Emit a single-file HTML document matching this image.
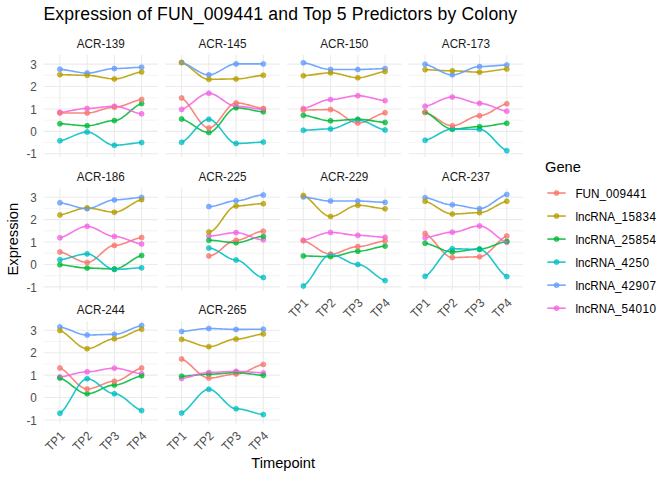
<!DOCTYPE html>
<html lang="en"><head><meta charset="utf-8"><title>Expression of FUN_009441 and Top 5 Predictors by Colony</title>
<style>html,body{margin:0;padding:0;background:#fff}svg{display:block}</style></head>
<body>
<svg width="672" height="480" viewBox="0 0 672 480" font-family='"Liberation Sans", Arial, Helvetica, sans-serif'>
<rect width="672" height="480" fill="#fff"/>
<text x="43.4" y="20.1" font-size="17.6" fill="#000" letter-spacing="0.157">Expression of FUN_009441 and Top 5 Predictors by Colony</text>
<g><path d="M43.55 75.31H157.95M43.55 97.73H157.95M43.55 120.15H157.95M43.55 142.57H157.95" stroke="#EBEBEB" stroke-width="0.53" fill="none"/><path d="M43.55 64.10H157.95M43.55 86.52H157.95M43.55 108.94H157.95M43.55 131.36H157.95M43.55 153.78H157.95M59.89 55.10V157.30M87.13 55.10V157.30M114.37 55.10V157.30M141.61 55.10V157.30" stroke="#EBEBEB" stroke-width="1.07" fill="none"/><circle cx="59.89" cy="112.30" r="2.5" fill="#F564E3" fill-opacity="0.75" stroke="#F564E3" stroke-opacity="0.75" stroke-width="0.8"/><circle cx="87.13" cy="108.49" r="2.5" fill="#F564E3" fill-opacity="0.75" stroke="#F564E3" stroke-opacity="0.75" stroke-width="0.8"/><circle cx="114.37" cy="106.25" r="2.5" fill="#F564E3" fill-opacity="0.75" stroke="#F564E3" stroke-opacity="0.75" stroke-width="0.8"/><circle cx="141.61" cy="113.87" r="2.5" fill="#F564E3" fill-opacity="0.75" stroke="#F564E3" stroke-opacity="0.75" stroke-width="0.8"/><circle cx="59.89" cy="69.26" r="2.5" fill="#619CFF" fill-opacity="0.75" stroke="#619CFF" stroke-opacity="0.75" stroke-width="0.8"/><circle cx="87.13" cy="73.07" r="2.5" fill="#619CFF" fill-opacity="0.75" stroke="#619CFF" stroke-opacity="0.75" stroke-width="0.8"/><circle cx="114.37" cy="68.58" r="2.5" fill="#619CFF" fill-opacity="0.75" stroke="#619CFF" stroke-opacity="0.75" stroke-width="0.8"/><circle cx="141.61" cy="67.24" r="2.5" fill="#619CFF" fill-opacity="0.75" stroke="#619CFF" stroke-opacity="0.75" stroke-width="0.8"/><circle cx="59.89" cy="140.78" r="2.5" fill="#00BFC4" fill-opacity="0.75" stroke="#00BFC4" stroke-opacity="0.75" stroke-width="0.8"/><circle cx="87.13" cy="132.03" r="2.5" fill="#00BFC4" fill-opacity="0.75" stroke="#00BFC4" stroke-opacity="0.75" stroke-width="0.8"/><circle cx="114.37" cy="145.26" r="2.5" fill="#00BFC4" fill-opacity="0.75" stroke="#00BFC4" stroke-opacity="0.75" stroke-width="0.8"/><circle cx="141.61" cy="142.57" r="2.5" fill="#00BFC4" fill-opacity="0.75" stroke="#00BFC4" stroke-opacity="0.75" stroke-width="0.8"/><circle cx="59.89" cy="123.74" r="2.5" fill="#00BA38" fill-opacity="0.75" stroke="#00BA38" stroke-opacity="0.75" stroke-width="0.8"/><circle cx="87.13" cy="125.75" r="2.5" fill="#00BA38" fill-opacity="0.75" stroke="#00BA38" stroke-opacity="0.75" stroke-width="0.8"/><circle cx="114.37" cy="120.60" r="2.5" fill="#00BA38" fill-opacity="0.75" stroke="#00BA38" stroke-opacity="0.75" stroke-width="0.8"/><circle cx="141.61" cy="103.56" r="2.5" fill="#00BA38" fill-opacity="0.75" stroke="#00BA38" stroke-opacity="0.75" stroke-width="0.8"/><circle cx="59.89" cy="74.64" r="2.5" fill="#B79F00" fill-opacity="0.75" stroke="#B79F00" stroke-opacity="0.75" stroke-width="0.8"/><circle cx="87.13" cy="75.31" r="2.5" fill="#B79F00" fill-opacity="0.75" stroke="#B79F00" stroke-opacity="0.75" stroke-width="0.8"/><circle cx="114.37" cy="78.90" r="2.5" fill="#B79F00" fill-opacity="0.75" stroke="#B79F00" stroke-opacity="0.75" stroke-width="0.8"/><circle cx="141.61" cy="71.95" r="2.5" fill="#B79F00" fill-opacity="0.75" stroke="#B79F00" stroke-opacity="0.75" stroke-width="0.8"/><circle cx="59.89" cy="112.98" r="2.5" fill="#F8766D" fill-opacity="0.75" stroke="#F8766D" stroke-opacity="0.75" stroke-width="0.8"/><circle cx="87.13" cy="112.98" r="2.5" fill="#F8766D" fill-opacity="0.75" stroke="#F8766D" stroke-opacity="0.75" stroke-width="0.8"/><circle cx="114.37" cy="107.15" r="2.5" fill="#F8766D" fill-opacity="0.75" stroke="#F8766D" stroke-opacity="0.75" stroke-width="0.8"/><circle cx="141.61" cy="99.52" r="2.5" fill="#F8766D" fill-opacity="0.75" stroke="#F8766D" stroke-opacity="0.75" stroke-width="0.8"/><path d="M59.89 112.98L61.60 112.98L63.30 112.98L65.00 112.98L66.70 112.98L68.40 112.98L70.11 112.98L71.81 112.98L73.51 112.98L75.21 112.98L76.92 112.98L78.62 112.98L80.32 112.98L82.02 112.98L83.73 112.98L85.43 112.98L87.13 112.98L88.83 112.91L90.54 112.73L92.24 112.44L93.94 112.06L95.64 111.62L97.35 111.13L99.05 110.60L100.75 110.06L102.45 109.52L104.15 108.99L105.86 108.50L107.56 108.06L109.26 107.68L110.96 107.40L112.67 107.21L114.37 107.15L116.07 107.07L117.77 106.87L119.48 106.55L121.18 106.13L122.88 105.63L124.58 105.07L126.29 104.46L127.99 103.81L129.69 103.15L131.39 102.49L133.10 101.85L134.80 101.25L136.50 100.70L138.20 100.22L139.90 99.82L141.61 99.52" stroke="#F8766D" stroke-opacity="0.88" stroke-width="1.6" fill="none" stroke-linejoin="round" stroke-linecap="butt"/><path d="M59.89 74.64L61.60 74.66L63.30 74.70L65.00 74.74L66.70 74.79L68.40 74.84L70.11 74.90L71.81 74.96L73.51 75.02L75.21 75.07L76.92 75.13L78.62 75.18L80.32 75.22L82.02 75.26L83.73 75.29L85.43 75.30L87.13 75.31L88.83 75.35L90.54 75.46L92.24 75.64L93.94 75.87L95.64 76.14L97.35 76.45L99.05 76.77L100.75 77.10L102.45 77.44L104.15 77.76L105.86 78.07L107.56 78.34L109.26 78.57L110.96 78.74L112.67 78.86L114.37 78.90L116.07 78.83L117.77 78.65L119.48 78.36L121.18 77.97L122.88 77.52L124.58 77.00L126.29 76.44L127.99 75.86L129.69 75.25L131.39 74.66L133.10 74.07L134.80 73.52L136.50 73.02L138.20 72.58L139.90 72.22L141.61 71.95" stroke="#B79F00" stroke-opacity="0.88" stroke-width="1.6" fill="none" stroke-linejoin="round" stroke-linecap="butt"/><path d="M59.89 123.74L61.60 123.82L63.30 123.92L65.00 124.05L66.70 124.19L68.40 124.35L70.11 124.52L71.81 124.70L73.51 124.87L75.21 125.04L76.92 125.21L78.62 125.35L80.32 125.49L82.02 125.60L83.73 125.68L85.43 125.74L87.13 125.75L88.83 125.70L90.54 125.53L92.24 125.28L93.94 124.95L95.64 124.56L97.35 124.12L99.05 123.66L100.75 123.18L102.45 122.70L104.15 122.23L105.86 121.79L107.56 121.40L109.26 121.07L110.96 120.82L112.67 120.66L114.37 120.60L116.07 120.44L117.77 119.98L119.48 119.27L121.18 118.34L122.88 117.22L124.58 115.96L126.29 114.59L127.99 113.14L129.69 111.67L131.39 110.20L133.10 108.77L134.80 107.42L136.50 106.19L138.20 105.11L139.90 104.22L141.61 103.56" stroke="#00BA38" stroke-opacity="0.88" stroke-width="1.6" fill="none" stroke-linejoin="round" stroke-linecap="butt"/><path d="M59.89 140.78L61.60 140.44L63.30 139.98L65.00 139.43L66.70 138.80L68.40 138.10L70.11 137.37L71.81 136.61L73.51 135.86L75.21 135.12L76.92 134.41L78.62 133.77L80.32 133.19L82.02 132.71L83.73 132.35L85.43 132.11L87.13 132.03L88.83 132.18L90.54 132.60L92.24 133.25L93.94 134.10L95.64 135.10L97.35 136.22L99.05 137.41L100.75 138.65L102.45 139.88L104.15 141.08L105.86 142.19L107.56 143.19L109.26 144.04L110.96 144.69L112.67 145.11L114.37 145.26L116.07 145.24L117.77 145.16L119.48 145.05L121.18 144.90L122.88 144.73L124.58 144.53L126.29 144.31L127.99 144.08L129.69 143.85L131.39 143.62L133.10 143.39L134.80 143.18L136.50 142.98L138.20 142.81L139.90 142.67L141.61 142.57" stroke="#00BFC4" stroke-opacity="0.88" stroke-width="1.6" fill="none" stroke-linejoin="round" stroke-linecap="butt"/><path d="M59.89 69.26L61.60 69.40L63.30 69.60L65.00 69.84L66.70 70.12L68.40 70.42L70.11 70.74L71.81 71.07L73.51 71.40L75.21 71.72L76.92 72.03L78.62 72.31L80.32 72.56L82.02 72.77L83.73 72.93L85.43 73.03L87.13 73.07L88.83 73.02L90.54 72.88L92.24 72.65L93.94 72.37L95.64 72.03L97.35 71.65L99.05 71.24L100.75 70.83L102.45 70.41L104.15 70.00L105.86 69.62L107.56 69.28L109.26 69.00L110.96 68.78L112.67 68.63L114.37 68.58L116.07 68.57L117.77 68.54L119.48 68.48L121.18 68.41L122.88 68.32L124.58 68.22L126.29 68.11L127.99 68.00L129.69 67.88L131.39 67.76L133.10 67.65L134.80 67.54L136.50 67.45L138.20 67.36L139.90 67.29L141.61 67.24" stroke="#619CFF" stroke-opacity="0.88" stroke-width="1.6" fill="none" stroke-linejoin="round" stroke-linecap="butt"/><path d="M59.89 112.30L61.60 112.16L63.30 111.96L65.00 111.72L66.70 111.44L68.40 111.14L70.11 110.82L71.81 110.49L73.51 110.16L75.21 109.84L76.92 109.53L78.62 109.25L80.32 109.00L82.02 108.79L83.73 108.63L85.43 108.53L87.13 108.49L88.83 108.47L90.54 108.40L92.24 108.28L93.94 108.14L95.64 107.97L97.35 107.78L99.05 107.58L100.75 107.37L102.45 107.16L104.15 106.96L105.86 106.77L107.56 106.60L109.26 106.46L110.96 106.35L112.67 106.27L114.37 106.25L116.07 106.32L117.77 106.53L119.48 106.84L121.18 107.26L122.88 107.76L124.58 108.33L126.29 108.94L127.99 109.58L129.69 110.24L131.39 110.90L133.10 111.54L134.80 112.15L136.50 112.70L138.20 113.18L139.90 113.58L141.61 113.87" stroke="#F564E3" stroke-opacity="0.88" stroke-width="1.6" fill="none" stroke-linejoin="round" stroke-linecap="butt"/></g>
<text transform="translate(100.75,47.80) scale(1,1.07)" font-size="11.73" fill="#1A1A1A" text-anchor="middle">ACR-139</text>
<text transform="translate(36.80,68.80) scale(1,1.07)" font-size="11.73" fill="#4D4D4D" text-anchor="end">3</text>
<text transform="translate(36.80,91.22) scale(1,1.07)" font-size="11.73" fill="#4D4D4D" text-anchor="end">2</text>
<text transform="translate(36.80,113.64) scale(1,1.07)" font-size="11.73" fill="#4D4D4D" text-anchor="end">1</text>
<text transform="translate(36.80,136.06) scale(1,1.07)" font-size="11.73" fill="#4D4D4D" text-anchor="end">0</text>
<text transform="translate(36.80,158.48) scale(1,1.07)" font-size="11.73" fill="#4D4D4D" text-anchor="end">-1</text>
<g><path d="M165.28 75.31H279.68M165.28 97.73H279.68M165.28 120.15H279.68M165.28 142.57H279.68" stroke="#EBEBEB" stroke-width="0.53" fill="none"/><path d="M165.28 64.10H279.68M165.28 86.52H279.68M165.28 108.94H279.68M165.28 131.36H279.68M165.28 153.78H279.68M181.62 55.10V157.30M208.86 55.10V157.30M236.10 55.10V157.30M263.34 55.10V157.30" stroke="#EBEBEB" stroke-width="1.07" fill="none"/><circle cx="181.62" cy="109.39" r="2.5" fill="#F564E3" fill-opacity="0.75" stroke="#F564E3" stroke-opacity="0.75" stroke-width="0.8"/><circle cx="208.86" cy="93.25" r="2.5" fill="#F564E3" fill-opacity="0.75" stroke="#F564E3" stroke-opacity="0.75" stroke-width="0.8"/><circle cx="236.10" cy="106.25" r="2.5" fill="#F564E3" fill-opacity="0.75" stroke="#F564E3" stroke-opacity="0.75" stroke-width="0.8"/><circle cx="263.34" cy="109.39" r="2.5" fill="#F564E3" fill-opacity="0.75" stroke="#F564E3" stroke-opacity="0.75" stroke-width="0.8"/><circle cx="181.62" cy="62.53" r="2.5" fill="#619CFF" fill-opacity="0.75" stroke="#619CFF" stroke-opacity="0.75" stroke-width="0.8"/><circle cx="208.86" cy="74.86" r="2.5" fill="#619CFF" fill-opacity="0.75" stroke="#619CFF" stroke-opacity="0.75" stroke-width="0.8"/><circle cx="236.10" cy="63.88" r="2.5" fill="#619CFF" fill-opacity="0.75" stroke="#619CFF" stroke-opacity="0.75" stroke-width="0.8"/><circle cx="263.34" cy="63.88" r="2.5" fill="#619CFF" fill-opacity="0.75" stroke="#619CFF" stroke-opacity="0.75" stroke-width="0.8"/><circle cx="181.62" cy="142.35" r="2.5" fill="#00BFC4" fill-opacity="0.75" stroke="#00BFC4" stroke-opacity="0.75" stroke-width="0.8"/><circle cx="208.86" cy="119.25" r="2.5" fill="#00BFC4" fill-opacity="0.75" stroke="#00BFC4" stroke-opacity="0.75" stroke-width="0.8"/><circle cx="236.10" cy="143.47" r="2.5" fill="#00BFC4" fill-opacity="0.75" stroke="#00BFC4" stroke-opacity="0.75" stroke-width="0.8"/><circle cx="263.34" cy="142.12" r="2.5" fill="#00BFC4" fill-opacity="0.75" stroke="#00BFC4" stroke-opacity="0.75" stroke-width="0.8"/><circle cx="181.62" cy="119.03" r="2.5" fill="#00BA38" fill-opacity="0.75" stroke="#00BA38" stroke-opacity="0.75" stroke-width="0.8"/><circle cx="208.86" cy="132.48" r="2.5" fill="#00BA38" fill-opacity="0.75" stroke="#00BA38" stroke-opacity="0.75" stroke-width="0.8"/><circle cx="236.10" cy="107.82" r="2.5" fill="#00BA38" fill-opacity="0.75" stroke="#00BA38" stroke-opacity="0.75" stroke-width="0.8"/><circle cx="263.34" cy="111.85" r="2.5" fill="#00BA38" fill-opacity="0.75" stroke="#00BA38" stroke-opacity="0.75" stroke-width="0.8"/><circle cx="181.62" cy="62.53" r="2.5" fill="#B79F00" fill-opacity="0.75" stroke="#B79F00" stroke-opacity="0.75" stroke-width="0.8"/><circle cx="208.86" cy="79.35" r="2.5" fill="#B79F00" fill-opacity="0.75" stroke="#B79F00" stroke-opacity="0.75" stroke-width="0.8"/><circle cx="236.10" cy="78.90" r="2.5" fill="#B79F00" fill-opacity="0.75" stroke="#B79F00" stroke-opacity="0.75" stroke-width="0.8"/><circle cx="263.34" cy="75.31" r="2.5" fill="#B79F00" fill-opacity="0.75" stroke="#B79F00" stroke-opacity="0.75" stroke-width="0.8"/><circle cx="181.62" cy="97.95" r="2.5" fill="#F8766D" fill-opacity="0.75" stroke="#F8766D" stroke-opacity="0.75" stroke-width="0.8"/><circle cx="208.86" cy="128.00" r="2.5" fill="#F8766D" fill-opacity="0.75" stroke="#F8766D" stroke-opacity="0.75" stroke-width="0.8"/><circle cx="236.10" cy="102.89" r="2.5" fill="#F8766D" fill-opacity="0.75" stroke="#F8766D" stroke-opacity="0.75" stroke-width="0.8"/><circle cx="263.34" cy="108.49" r="2.5" fill="#F8766D" fill-opacity="0.75" stroke="#F8766D" stroke-opacity="0.75" stroke-width="0.8"/><path d="M181.62 97.95L183.33 99.12L185.03 100.68L186.73 102.59L188.43 104.76L190.13 107.14L191.84 109.66L193.54 112.25L195.24 114.85L196.94 117.39L198.65 119.81L200.35 122.04L202.05 124.01L203.75 125.65L205.46 126.91L207.16 127.71L208.86 128.00L210.56 127.71L212.27 126.92L213.97 125.68L215.67 124.07L217.37 122.17L219.08 120.05L220.78 117.78L222.48 115.44L224.18 113.10L225.88 110.83L227.59 108.71L229.29 106.81L230.99 105.20L232.69 103.97L234.40 103.17L236.10 102.89L237.80 102.94L239.50 103.09L241.21 103.32L242.91 103.63L244.61 104.00L246.31 104.41L248.02 104.86L249.72 105.34L251.42 105.82L253.12 106.31L254.83 106.78L256.53 107.22L258.23 107.63L259.93 107.98L261.63 108.27L263.34 108.49" stroke="#F8766D" stroke-opacity="0.88" stroke-width="1.6" fill="none" stroke-linejoin="round" stroke-linecap="butt"/><path d="M181.62 62.53L183.33 63.18L185.03 64.06L186.73 65.12L188.43 66.34L190.13 67.67L191.84 69.08L193.54 70.53L195.24 71.99L196.94 73.41L198.65 74.76L200.35 76.01L202.05 77.11L203.75 78.03L205.46 78.74L207.16 79.19L208.86 79.35L210.56 79.34L212.27 79.33L213.97 79.30L215.67 79.28L217.37 79.24L219.08 79.20L220.78 79.16L222.48 79.12L224.18 79.08L225.88 79.04L227.59 79.00L229.29 78.97L230.99 78.94L232.69 78.92L234.40 78.90L236.10 78.90L237.80 78.86L239.50 78.77L241.21 78.62L242.91 78.42L244.61 78.19L246.31 77.92L248.02 77.63L249.72 77.33L251.42 77.02L253.12 76.71L254.83 76.41L256.53 76.12L258.23 75.86L259.93 75.64L261.63 75.45L263.34 75.31" stroke="#B79F00" stroke-opacity="0.88" stroke-width="1.6" fill="none" stroke-linejoin="round" stroke-linecap="butt"/><path d="M181.62 119.03L183.33 119.55L185.03 120.25L186.73 121.10L188.43 122.08L190.13 123.14L191.84 124.27L193.54 125.43L195.24 126.60L196.94 127.73L198.65 128.82L200.35 129.81L202.05 130.69L203.75 131.43L205.46 131.99L207.16 132.35L208.86 132.48L210.56 132.20L212.27 131.42L213.97 130.21L215.67 128.63L217.37 126.76L219.08 124.68L220.78 122.45L222.48 120.15L224.18 117.85L225.88 115.62L227.59 113.54L229.29 111.67L230.99 110.09L232.69 108.88L234.40 108.10L236.10 107.82L237.80 107.86L239.50 107.96L241.21 108.13L242.91 108.35L244.61 108.62L246.31 108.92L248.02 109.24L249.72 109.58L251.42 109.93L253.12 110.28L254.83 110.62L256.53 110.94L258.23 111.23L259.93 111.49L261.63 111.70L263.34 111.85" stroke="#00BA38" stroke-opacity="0.88" stroke-width="1.6" fill="none" stroke-linejoin="round" stroke-linecap="butt"/><path d="M181.62 142.35L183.33 141.45L185.03 140.25L186.73 138.79L188.43 137.11L190.13 135.28L191.84 133.35L193.54 131.35L195.24 129.36L196.94 127.40L198.65 125.55L200.35 123.83L202.05 122.32L203.75 121.05L205.46 120.09L207.16 119.47L208.86 119.25L210.56 119.53L212.27 120.29L213.97 121.49L215.67 123.04L217.37 124.87L219.08 126.91L220.78 129.10L222.48 131.36L224.18 133.62L225.88 135.81L227.59 137.85L229.29 139.68L230.99 141.23L232.69 142.43L234.40 143.19L236.10 143.47L237.80 143.45L239.50 143.42L241.21 143.36L242.91 143.29L244.61 143.20L246.31 143.10L248.02 142.99L249.72 142.88L251.42 142.76L253.12 142.65L254.83 142.53L256.53 142.43L258.23 142.33L259.93 142.24L261.63 142.17L263.34 142.12" stroke="#00BFC4" stroke-opacity="0.88" stroke-width="1.6" fill="none" stroke-linejoin="round" stroke-linecap="butt"/><path d="M181.62 62.53L183.33 63.01L185.03 63.65L186.73 64.43L188.43 65.32L190.13 66.30L191.84 67.34L193.54 68.40L195.24 69.47L196.94 70.51L198.65 71.50L200.35 72.42L202.05 73.22L203.75 73.90L205.46 74.42L207.16 74.75L208.86 74.86L210.56 74.74L212.27 74.39L213.97 73.85L215.67 73.15L217.37 72.31L219.08 71.39L220.78 70.39L222.48 69.37L224.18 68.34L225.88 67.35L227.59 66.42L229.29 65.59L230.99 64.89L232.69 64.35L234.40 64.00L236.10 63.88L237.80 63.88L239.50 63.88L241.21 63.88L242.91 63.88L244.61 63.88L246.31 63.88L248.02 63.88L249.72 63.88L251.42 63.88L253.12 63.88L254.83 63.88L256.53 63.88L258.23 63.88L259.93 63.88L261.63 63.88L263.34 63.88" stroke="#619CFF" stroke-opacity="0.88" stroke-width="1.6" fill="none" stroke-linejoin="round" stroke-linecap="butt"/><path d="M181.62 109.39L183.33 108.76L185.03 107.92L186.73 106.90L188.43 105.73L190.13 104.45L191.84 103.10L193.54 101.71L195.24 100.31L196.94 98.94L198.65 97.64L200.35 96.45L202.05 95.39L203.75 94.51L205.46 93.83L207.16 93.40L208.86 93.25L210.56 93.39L212.27 93.80L213.97 94.45L215.67 95.28L217.37 96.26L219.08 97.36L220.78 98.54L222.48 99.75L224.18 100.96L225.88 102.14L227.59 103.23L229.29 104.22L230.99 105.05L232.69 105.69L234.40 106.10L236.10 106.25L237.80 106.28L239.50 106.36L241.21 106.49L242.91 106.67L244.61 106.87L246.31 107.10L248.02 107.36L249.72 107.62L251.42 107.89L253.12 108.17L254.83 108.43L256.53 108.68L258.23 108.90L259.93 109.10L261.63 109.27L263.34 109.39" stroke="#F564E3" stroke-opacity="0.88" stroke-width="1.6" fill="none" stroke-linejoin="round" stroke-linecap="butt"/></g>
<text transform="translate(222.48,47.80) scale(1,1.07)" font-size="11.73" fill="#1A1A1A" text-anchor="middle">ACR-145</text>
<g><path d="M287.01 75.31H401.41M287.01 97.73H401.41M287.01 120.15H401.41M287.01 142.57H401.41" stroke="#EBEBEB" stroke-width="0.53" fill="none"/><path d="M287.01 64.10H401.41M287.01 86.52H401.41M287.01 108.94H401.41M287.01 131.36H401.41M287.01 153.78H401.41M303.35 55.10V157.30M330.59 55.10V157.30M357.83 55.10V157.30M385.07 55.10V157.30" stroke="#EBEBEB" stroke-width="1.07" fill="none"/><circle cx="303.35" cy="108.49" r="2.5" fill="#F564E3" fill-opacity="0.75" stroke="#F564E3" stroke-opacity="0.75" stroke-width="0.8"/><circle cx="330.59" cy="99.52" r="2.5" fill="#F564E3" fill-opacity="0.75" stroke="#F564E3" stroke-opacity="0.75" stroke-width="0.8"/><circle cx="357.83" cy="95.71" r="2.5" fill="#F564E3" fill-opacity="0.75" stroke="#F564E3" stroke-opacity="0.75" stroke-width="0.8"/><circle cx="385.07" cy="100.64" r="2.5" fill="#F564E3" fill-opacity="0.75" stroke="#F564E3" stroke-opacity="0.75" stroke-width="0.8"/><circle cx="303.35" cy="62.75" r="2.5" fill="#619CFF" fill-opacity="0.75" stroke="#619CFF" stroke-opacity="0.75" stroke-width="0.8"/><circle cx="330.59" cy="69.48" r="2.5" fill="#619CFF" fill-opacity="0.75" stroke="#619CFF" stroke-opacity="0.75" stroke-width="0.8"/><circle cx="357.83" cy="69.48" r="2.5" fill="#619CFF" fill-opacity="0.75" stroke="#619CFF" stroke-opacity="0.75" stroke-width="0.8"/><circle cx="385.07" cy="68.58" r="2.5" fill="#619CFF" fill-opacity="0.75" stroke="#619CFF" stroke-opacity="0.75" stroke-width="0.8"/><circle cx="303.35" cy="130.24" r="2.5" fill="#00BFC4" fill-opacity="0.75" stroke="#00BFC4" stroke-opacity="0.75" stroke-width="0.8"/><circle cx="330.59" cy="128.89" r="2.5" fill="#00BFC4" fill-opacity="0.75" stroke="#00BFC4" stroke-opacity="0.75" stroke-width="0.8"/><circle cx="357.83" cy="120.15" r="2.5" fill="#00BFC4" fill-opacity="0.75" stroke="#00BFC4" stroke-opacity="0.75" stroke-width="0.8"/><circle cx="385.07" cy="130.01" r="2.5" fill="#00BFC4" fill-opacity="0.75" stroke="#00BFC4" stroke-opacity="0.75" stroke-width="0.8"/><circle cx="303.35" cy="115.22" r="2.5" fill="#00BA38" fill-opacity="0.75" stroke="#00BA38" stroke-opacity="0.75" stroke-width="0.8"/><circle cx="330.59" cy="120.82" r="2.5" fill="#00BA38" fill-opacity="0.75" stroke="#00BA38" stroke-opacity="0.75" stroke-width="0.8"/><circle cx="357.83" cy="119.25" r="2.5" fill="#00BA38" fill-opacity="0.75" stroke="#00BA38" stroke-opacity="0.75" stroke-width="0.8"/><circle cx="385.07" cy="122.39" r="2.5" fill="#00BA38" fill-opacity="0.75" stroke="#00BA38" stroke-opacity="0.75" stroke-width="0.8"/><circle cx="303.35" cy="75.76" r="2.5" fill="#B79F00" fill-opacity="0.75" stroke="#B79F00" stroke-opacity="0.75" stroke-width="0.8"/><circle cx="330.59" cy="72.84" r="2.5" fill="#B79F00" fill-opacity="0.75" stroke="#B79F00" stroke-opacity="0.75" stroke-width="0.8"/><circle cx="357.83" cy="77.78" r="2.5" fill="#B79F00" fill-opacity="0.75" stroke="#B79F00" stroke-opacity="0.75" stroke-width="0.8"/><circle cx="385.07" cy="71.50" r="2.5" fill="#B79F00" fill-opacity="0.75" stroke="#B79F00" stroke-opacity="0.75" stroke-width="0.8"/><circle cx="303.35" cy="110.06" r="2.5" fill="#F8766D" fill-opacity="0.75" stroke="#F8766D" stroke-opacity="0.75" stroke-width="0.8"/><circle cx="330.59" cy="109.61" r="2.5" fill="#F8766D" fill-opacity="0.75" stroke="#F8766D" stroke-opacity="0.75" stroke-width="0.8"/><circle cx="357.83" cy="123.06" r="2.5" fill="#F8766D" fill-opacity="0.75" stroke="#F8766D" stroke-opacity="0.75" stroke-width="0.8"/><circle cx="385.07" cy="112.75" r="2.5" fill="#F8766D" fill-opacity="0.75" stroke="#F8766D" stroke-opacity="0.75" stroke-width="0.8"/><path d="M303.35 110.06L305.06 110.04L306.76 110.02L308.46 109.99L310.16 109.96L311.86 109.92L313.57 109.89L315.27 109.85L316.97 109.81L318.67 109.77L320.38 109.73L322.08 109.70L323.78 109.67L325.48 109.65L327.19 109.63L328.89 109.62L330.59 109.61L332.29 109.76L334.00 110.19L335.70 110.85L337.40 111.71L339.10 112.73L340.81 113.87L342.51 115.08L344.21 116.34L345.91 117.59L347.61 118.81L349.32 119.94L351.02 120.96L352.72 121.82L354.42 122.49L356.13 122.91L357.83 123.06L359.53 122.97L361.23 122.69L362.94 122.26L364.64 121.69L366.34 121.02L368.04 120.25L369.75 119.43L371.45 118.55L373.15 117.66L374.85 116.77L376.56 115.91L378.26 115.09L379.96 114.34L381.66 113.69L383.36 113.15L385.07 112.75" stroke="#F8766D" stroke-opacity="0.88" stroke-width="1.6" fill="none" stroke-linejoin="round" stroke-linecap="butt"/><path d="M303.35 75.76L305.06 75.65L306.76 75.49L308.46 75.31L310.16 75.10L311.86 74.87L313.57 74.62L315.27 74.37L316.97 74.12L318.67 73.87L320.38 73.64L322.08 73.42L323.78 73.23L325.48 73.07L327.19 72.95L328.89 72.87L330.59 72.84L332.29 72.90L334.00 73.06L335.70 73.30L337.40 73.61L339.10 73.99L340.81 74.40L342.51 74.85L344.21 75.31L345.91 75.77L347.61 76.22L349.32 76.63L351.02 77.01L352.72 77.32L354.42 77.56L356.13 77.72L357.83 77.78L359.53 77.72L361.23 77.55L362.94 77.29L364.64 76.94L366.34 76.53L368.04 76.07L369.75 75.56L371.45 75.03L373.15 74.49L374.85 73.94L376.56 73.42L378.26 72.92L379.96 72.47L381.66 72.07L383.36 71.74L385.07 71.50" stroke="#B79F00" stroke-opacity="0.88" stroke-width="1.6" fill="none" stroke-linejoin="round" stroke-linecap="butt"/><path d="M303.35 115.22L305.06 115.43L306.76 115.73L308.46 116.08L310.16 116.49L311.86 116.93L313.57 117.40L315.27 117.89L316.97 118.37L318.67 118.84L320.38 119.30L322.08 119.71L323.78 120.08L325.48 120.39L327.19 120.62L328.89 120.77L330.59 120.82L332.29 120.80L334.00 120.76L335.70 120.68L337.40 120.58L339.10 120.46L340.81 120.33L342.51 120.18L344.21 120.04L345.91 119.89L347.61 119.75L349.32 119.62L351.02 119.50L352.72 119.40L354.42 119.32L356.13 119.27L357.83 119.25L359.53 119.28L361.23 119.37L362.94 119.50L364.64 119.67L366.34 119.88L368.04 120.11L369.75 120.36L371.45 120.63L373.15 120.90L374.85 121.17L376.56 121.43L378.26 121.68L379.96 121.91L381.66 122.11L383.36 122.27L385.07 122.39" stroke="#00BA38" stroke-opacity="0.88" stroke-width="1.6" fill="none" stroke-linejoin="round" stroke-linecap="butt"/><path d="M303.35 130.24L305.06 130.19L306.76 130.12L308.46 130.03L310.16 129.93L311.86 129.83L313.57 129.71L315.27 129.60L316.97 129.48L318.67 129.37L320.38 129.26L322.08 129.16L323.78 129.07L325.48 129.00L327.19 128.94L328.89 128.91L330.59 128.89L332.29 128.80L334.00 128.52L335.70 128.09L337.40 127.53L339.10 126.87L340.81 126.13L342.51 125.34L344.21 124.52L345.91 123.71L347.61 122.92L349.32 122.18L351.02 121.52L352.72 120.96L354.42 120.53L356.13 120.25L357.83 120.15L359.53 120.24L361.23 120.51L362.94 120.92L364.64 121.46L366.34 122.11L368.04 122.84L369.75 123.63L371.45 124.47L373.15 125.32L374.85 126.17L376.56 127.00L378.26 127.78L379.96 128.49L381.66 129.12L383.36 129.63L385.07 130.01" stroke="#00BFC4" stroke-opacity="0.88" stroke-width="1.6" fill="none" stroke-linejoin="round" stroke-linecap="butt"/><path d="M303.35 62.75L305.06 63.02L306.76 63.37L308.46 63.79L310.16 64.28L311.86 64.81L313.57 65.38L315.27 65.96L316.97 66.54L318.67 67.11L320.38 67.65L322.08 68.15L323.78 68.59L325.48 68.96L327.19 69.24L328.89 69.42L330.59 69.48L332.29 69.48L334.00 69.48L335.70 69.48L337.40 69.48L339.10 69.48L340.81 69.48L342.51 69.48L344.21 69.48L345.91 69.48L347.61 69.48L349.32 69.48L351.02 69.48L352.72 69.48L354.42 69.48L356.13 69.48L357.83 69.48L359.53 69.47L361.23 69.45L362.94 69.41L364.64 69.36L366.34 69.30L368.04 69.24L369.75 69.16L371.45 69.09L373.15 69.01L374.85 68.93L376.56 68.86L378.26 68.79L379.96 68.72L381.66 68.67L383.36 68.62L385.07 68.58" stroke="#619CFF" stroke-opacity="0.88" stroke-width="1.6" fill="none" stroke-linejoin="round" stroke-linecap="butt"/><path d="M303.35 108.49L305.06 108.14L306.76 107.68L308.46 107.11L310.16 106.46L311.86 105.75L313.57 105.00L315.27 104.22L316.97 103.45L318.67 102.69L320.38 101.97L322.08 101.30L323.78 100.71L325.48 100.22L327.19 99.85L328.89 99.61L330.59 99.52L332.29 99.48L334.00 99.36L335.70 99.17L337.40 98.93L339.10 98.64L340.81 98.32L342.51 97.97L344.21 97.62L345.91 97.26L347.61 96.92L349.32 96.60L351.02 96.31L352.72 96.06L354.42 95.88L356.13 95.76L357.83 95.71L359.53 95.76L361.23 95.89L362.94 96.10L364.64 96.37L366.34 96.69L368.04 97.06L369.75 97.45L371.45 97.87L373.15 98.30L374.85 98.72L376.56 99.14L378.26 99.53L379.96 99.88L381.66 100.20L383.36 100.45L385.07 100.64" stroke="#F564E3" stroke-opacity="0.88" stroke-width="1.6" fill="none" stroke-linejoin="round" stroke-linecap="butt"/></g>
<text transform="translate(344.21,47.80) scale(1,1.07)" font-size="11.73" fill="#1A1A1A" text-anchor="middle">ACR-150</text>
<g><path d="M408.74 75.31H523.14M408.74 97.73H523.14M408.74 120.15H523.14M408.74 142.57H523.14" stroke="#EBEBEB" stroke-width="0.53" fill="none"/><path d="M408.74 64.10H523.14M408.74 86.52H523.14M408.74 108.94H523.14M408.74 131.36H523.14M408.74 153.78H523.14M425.08 55.10V157.30M452.32 55.10V157.30M479.56 55.10V157.30M506.80 55.10V157.30" stroke="#EBEBEB" stroke-width="1.07" fill="none"/><circle cx="425.08" cy="106.25" r="2.5" fill="#F564E3" fill-opacity="0.75" stroke="#F564E3" stroke-opacity="0.75" stroke-width="0.8"/><circle cx="452.32" cy="97.06" r="2.5" fill="#F564E3" fill-opacity="0.75" stroke="#F564E3" stroke-opacity="0.75" stroke-width="0.8"/><circle cx="479.56" cy="103.33" r="2.5" fill="#F564E3" fill-opacity="0.75" stroke="#F564E3" stroke-opacity="0.75" stroke-width="0.8"/><circle cx="506.80" cy="111.18" r="2.5" fill="#F564E3" fill-opacity="0.75" stroke="#F564E3" stroke-opacity="0.75" stroke-width="0.8"/><circle cx="425.08" cy="64.32" r="2.5" fill="#619CFF" fill-opacity="0.75" stroke="#619CFF" stroke-opacity="0.75" stroke-width="0.8"/><circle cx="452.32" cy="74.86" r="2.5" fill="#619CFF" fill-opacity="0.75" stroke="#619CFF" stroke-opacity="0.75" stroke-width="0.8"/><circle cx="479.56" cy="66.57" r="2.5" fill="#619CFF" fill-opacity="0.75" stroke="#619CFF" stroke-opacity="0.75" stroke-width="0.8"/><circle cx="506.80" cy="65.00" r="2.5" fill="#619CFF" fill-opacity="0.75" stroke="#619CFF" stroke-opacity="0.75" stroke-width="0.8"/><circle cx="425.08" cy="140.33" r="2.5" fill="#00BFC4" fill-opacity="0.75" stroke="#00BFC4" stroke-opacity="0.75" stroke-width="0.8"/><circle cx="452.32" cy="129.12" r="2.5" fill="#00BFC4" fill-opacity="0.75" stroke="#00BFC4" stroke-opacity="0.75" stroke-width="0.8"/><circle cx="479.56" cy="129.34" r="2.5" fill="#00BFC4" fill-opacity="0.75" stroke="#00BFC4" stroke-opacity="0.75" stroke-width="0.8"/><circle cx="506.80" cy="150.64" r="2.5" fill="#00BFC4" fill-opacity="0.75" stroke="#00BFC4" stroke-opacity="0.75" stroke-width="0.8"/><circle cx="425.08" cy="112.30" r="2.5" fill="#00BA38" fill-opacity="0.75" stroke="#00BA38" stroke-opacity="0.75" stroke-width="0.8"/><circle cx="452.32" cy="129.12" r="2.5" fill="#00BA38" fill-opacity="0.75" stroke="#00BA38" stroke-opacity="0.75" stroke-width="0.8"/><circle cx="479.56" cy="126.65" r="2.5" fill="#00BA38" fill-opacity="0.75" stroke="#00BA38" stroke-opacity="0.75" stroke-width="0.8"/><circle cx="506.80" cy="123.29" r="2.5" fill="#00BA38" fill-opacity="0.75" stroke="#00BA38" stroke-opacity="0.75" stroke-width="0.8"/><circle cx="425.08" cy="69.70" r="2.5" fill="#B79F00" fill-opacity="0.75" stroke="#B79F00" stroke-opacity="0.75" stroke-width="0.8"/><circle cx="452.32" cy="70.83" r="2.5" fill="#B79F00" fill-opacity="0.75" stroke="#B79F00" stroke-opacity="0.75" stroke-width="0.8"/><circle cx="479.56" cy="72.17" r="2.5" fill="#B79F00" fill-opacity="0.75" stroke="#B79F00" stroke-opacity="0.75" stroke-width="0.8"/><circle cx="506.80" cy="69.03" r="2.5" fill="#B79F00" fill-opacity="0.75" stroke="#B79F00" stroke-opacity="0.75" stroke-width="0.8"/><circle cx="425.08" cy="112.30" r="2.5" fill="#F8766D" fill-opacity="0.75" stroke="#F8766D" stroke-opacity="0.75" stroke-width="0.8"/><circle cx="452.32" cy="125.75" r="2.5" fill="#F8766D" fill-opacity="0.75" stroke="#F8766D" stroke-opacity="0.75" stroke-width="0.8"/><circle cx="479.56" cy="115.67" r="2.5" fill="#F8766D" fill-opacity="0.75" stroke="#F8766D" stroke-opacity="0.75" stroke-width="0.8"/><circle cx="506.80" cy="103.78" r="2.5" fill="#F8766D" fill-opacity="0.75" stroke="#F8766D" stroke-opacity="0.75" stroke-width="0.8"/><path d="M425.08 112.30L426.79 112.82L428.49 113.52L430.19 114.38L431.89 115.35L433.59 116.42L435.30 117.54L437.00 118.71L438.70 119.87L440.40 121.01L442.11 122.09L443.81 123.09L445.51 123.97L447.21 124.71L448.92 125.27L450.62 125.63L452.32 125.75L454.02 125.64L455.73 125.32L457.43 124.82L459.13 124.18L460.83 123.42L462.54 122.56L464.24 121.65L465.94 120.71L467.64 119.77L469.34 118.86L471.05 118.01L472.75 117.24L474.45 116.60L476.15 116.10L477.86 115.78L479.56 115.67L481.26 115.55L482.96 115.24L484.67 114.74L486.37 114.09L488.07 113.31L489.77 112.43L491.48 111.47L493.18 110.47L494.88 109.44L496.58 108.41L498.29 107.42L499.99 106.48L501.69 105.62L503.39 104.86L505.09 104.24L506.80 103.78" stroke="#F8766D" stroke-opacity="0.88" stroke-width="1.6" fill="none" stroke-linejoin="round" stroke-linecap="butt"/><path d="M425.08 69.70L426.79 69.75L428.49 69.81L430.19 69.88L431.89 69.96L433.59 70.05L435.30 70.14L437.00 70.24L438.70 70.34L440.40 70.43L442.11 70.52L443.81 70.60L445.51 70.68L447.21 70.74L448.92 70.79L450.62 70.82L452.32 70.83L454.02 70.84L455.73 70.88L457.43 70.95L459.13 71.04L460.83 71.14L462.54 71.25L464.24 71.37L465.94 71.50L467.64 71.62L469.34 71.75L471.05 71.86L472.75 71.96L474.45 72.05L476.15 72.11L477.86 72.16L479.56 72.17L481.26 72.14L482.96 72.06L484.67 71.93L486.37 71.75L488.07 71.55L489.77 71.32L491.48 71.06L493.18 70.80L494.88 70.53L496.58 70.26L498.29 69.99L499.99 69.74L501.69 69.52L503.39 69.32L505.09 69.15L506.80 69.03" stroke="#B79F00" stroke-opacity="0.88" stroke-width="1.6" fill="none" stroke-linejoin="round" stroke-linecap="butt"/><path d="M425.08 112.30L426.79 112.95L428.49 113.83L430.19 114.90L431.89 116.11L433.59 117.44L435.30 118.85L437.00 120.31L438.70 121.76L440.40 123.18L442.11 124.54L443.81 125.78L445.51 126.88L447.21 127.81L448.92 128.51L450.62 128.96L452.32 129.12L454.02 129.09L455.73 129.01L457.43 128.89L459.13 128.73L460.83 128.55L462.54 128.34L464.24 128.11L465.94 127.88L467.64 127.65L469.34 127.43L471.05 127.22L472.75 127.04L474.45 126.88L476.15 126.76L477.86 126.68L479.56 126.65L481.26 126.62L482.96 126.53L484.67 126.39L486.37 126.21L488.07 125.98L489.77 125.74L491.48 125.46L493.18 125.18L494.88 124.89L496.58 124.60L498.29 124.32L499.99 124.05L501.69 123.81L503.39 123.59L505.09 123.42L506.80 123.29" stroke="#00BA38" stroke-opacity="0.88" stroke-width="1.6" fill="none" stroke-linejoin="round" stroke-linecap="butt"/><path d="M425.08 140.33L426.79 139.89L428.49 139.31L430.19 138.60L431.89 137.79L433.59 136.90L435.30 135.96L437.00 134.99L438.70 134.02L440.40 133.07L442.11 132.17L443.81 131.34L445.51 130.61L447.21 129.99L448.92 129.52L450.62 129.22L452.32 129.12L454.02 129.12L455.73 129.13L457.43 129.14L459.13 129.15L460.83 129.17L462.54 129.19L464.24 129.21L465.94 129.23L467.64 129.25L469.34 129.27L471.05 129.29L472.75 129.31L474.45 129.32L476.15 129.33L477.86 129.34L479.56 129.34L481.26 129.54L482.96 130.11L484.67 131.00L486.37 132.17L488.07 133.57L489.77 135.15L491.48 136.86L493.18 138.66L494.88 140.50L496.58 142.34L498.29 144.13L499.99 145.82L501.69 147.36L503.39 148.71L505.09 149.82L506.80 150.64" stroke="#00BFC4" stroke-opacity="0.88" stroke-width="1.6" fill="none" stroke-linejoin="round" stroke-linecap="butt"/><path d="M425.08 64.32L426.79 64.73L428.49 65.28L430.19 65.95L431.89 66.71L433.59 67.55L435.30 68.43L437.00 69.34L438.70 70.25L440.40 71.14L442.11 71.99L443.81 72.77L445.51 73.46L447.21 74.04L448.92 74.48L450.62 74.76L452.32 74.86L454.02 74.77L455.73 74.51L457.43 74.10L459.13 73.57L460.83 72.94L462.54 72.24L464.24 71.49L465.94 70.71L467.64 69.94L469.34 69.19L471.05 68.49L472.75 67.86L474.45 67.33L476.15 66.92L477.86 66.66L479.56 66.57L481.26 66.55L482.96 66.51L484.67 66.44L486.37 66.36L488.07 66.25L489.77 66.14L491.48 66.01L493.18 65.88L494.88 65.74L496.58 65.61L498.29 65.48L499.99 65.35L501.69 65.24L503.39 65.14L505.09 65.06L506.80 65.00" stroke="#619CFF" stroke-opacity="0.88" stroke-width="1.6" fill="none" stroke-linejoin="round" stroke-linecap="butt"/><path d="M425.08 106.25L426.79 105.89L428.49 105.41L430.19 104.83L431.89 104.17L433.59 103.44L435.30 102.67L437.00 101.87L438.70 101.08L440.40 100.30L442.11 99.56L443.81 98.88L445.51 98.28L447.21 97.77L448.92 97.39L450.62 97.14L452.32 97.06L454.02 97.13L455.73 97.33L457.43 97.64L459.13 98.04L460.83 98.51L462.54 99.04L464.24 99.61L465.94 100.20L467.64 100.78L469.34 101.35L471.05 101.88L472.75 102.35L474.45 102.76L476.15 103.07L477.86 103.26L479.56 103.33L481.26 103.41L482.96 103.62L484.67 103.95L486.37 104.38L488.07 104.89L489.77 105.47L491.48 106.10L493.18 106.77L494.88 107.45L496.58 108.12L498.29 108.78L499.99 109.40L501.69 109.97L503.39 110.47L505.09 110.88L506.80 111.18" stroke="#F564E3" stroke-opacity="0.88" stroke-width="1.6" fill="none" stroke-linejoin="round" stroke-linecap="butt"/></g>
<text transform="translate(465.94,47.80) scale(1,1.07)" font-size="11.73" fill="#1A1A1A" text-anchor="middle">ACR-173</text>
<g><path d="M43.55 208.41H157.95M43.55 230.83H157.95M43.55 253.25H157.95M43.55 275.67H157.95" stroke="#EBEBEB" stroke-width="0.53" fill="none"/><path d="M43.55 197.20H157.95M43.55 219.62H157.95M43.55 242.04H157.95M43.55 264.46H157.95M43.55 286.88H157.95M59.89 188.20V290.40M87.13 188.20V290.40M114.37 188.20V290.40M141.61 188.20V290.40" stroke="#EBEBEB" stroke-width="1.07" fill="none"/><circle cx="59.89" cy="237.78" r="2.5" fill="#F564E3" fill-opacity="0.75" stroke="#F564E3" stroke-opacity="0.75" stroke-width="0.8"/><circle cx="87.13" cy="226.35" r="2.5" fill="#F564E3" fill-opacity="0.75" stroke="#F564E3" stroke-opacity="0.75" stroke-width="0.8"/><circle cx="114.37" cy="236.44" r="2.5" fill="#F564E3" fill-opacity="0.75" stroke="#F564E3" stroke-opacity="0.75" stroke-width="0.8"/><circle cx="141.61" cy="244.06" r="2.5" fill="#F564E3" fill-opacity="0.75" stroke="#F564E3" stroke-opacity="0.75" stroke-width="0.8"/><circle cx="59.89" cy="202.80" r="2.5" fill="#619CFF" fill-opacity="0.75" stroke="#619CFF" stroke-opacity="0.75" stroke-width="0.8"/><circle cx="87.13" cy="208.63" r="2.5" fill="#619CFF" fill-opacity="0.75" stroke="#619CFF" stroke-opacity="0.75" stroke-width="0.8"/><circle cx="114.37" cy="199.89" r="2.5" fill="#619CFF" fill-opacity="0.75" stroke="#619CFF" stroke-opacity="0.75" stroke-width="0.8"/><circle cx="141.61" cy="197.42" r="2.5" fill="#619CFF" fill-opacity="0.75" stroke="#619CFF" stroke-opacity="0.75" stroke-width="0.8"/><circle cx="59.89" cy="259.75" r="2.5" fill="#00BFC4" fill-opacity="0.75" stroke="#00BFC4" stroke-opacity="0.75" stroke-width="0.8"/><circle cx="87.13" cy="253.92" r="2.5" fill="#00BFC4" fill-opacity="0.75" stroke="#00BFC4" stroke-opacity="0.75" stroke-width="0.8"/><circle cx="114.37" cy="269.39" r="2.5" fill="#00BFC4" fill-opacity="0.75" stroke="#00BFC4" stroke-opacity="0.75" stroke-width="0.8"/><circle cx="141.61" cy="267.82" r="2.5" fill="#00BFC4" fill-opacity="0.75" stroke="#00BFC4" stroke-opacity="0.75" stroke-width="0.8"/><circle cx="59.89" cy="264.68" r="2.5" fill="#00BA38" fill-opacity="0.75" stroke="#00BA38" stroke-opacity="0.75" stroke-width="0.8"/><circle cx="87.13" cy="268.05" r="2.5" fill="#00BA38" fill-opacity="0.75" stroke="#00BA38" stroke-opacity="0.75" stroke-width="0.8"/><circle cx="114.37" cy="268.94" r="2.5" fill="#00BA38" fill-opacity="0.75" stroke="#00BA38" stroke-opacity="0.75" stroke-width="0.8"/><circle cx="141.61" cy="255.49" r="2.5" fill="#00BA38" fill-opacity="0.75" stroke="#00BA38" stroke-opacity="0.75" stroke-width="0.8"/><circle cx="59.89" cy="214.91" r="2.5" fill="#B79F00" fill-opacity="0.75" stroke="#B79F00" stroke-opacity="0.75" stroke-width="0.8"/><circle cx="87.13" cy="207.96" r="2.5" fill="#B79F00" fill-opacity="0.75" stroke="#B79F00" stroke-opacity="0.75" stroke-width="0.8"/><circle cx="114.37" cy="212.22" r="2.5" fill="#B79F00" fill-opacity="0.75" stroke="#B79F00" stroke-opacity="0.75" stroke-width="0.8"/><circle cx="141.61" cy="199.67" r="2.5" fill="#B79F00" fill-opacity="0.75" stroke="#B79F00" stroke-opacity="0.75" stroke-width="0.8"/><circle cx="59.89" cy="251.90" r="2.5" fill="#F8766D" fill-opacity="0.75" stroke="#F8766D" stroke-opacity="0.75" stroke-width="0.8"/><circle cx="87.13" cy="262.44" r="2.5" fill="#F8766D" fill-opacity="0.75" stroke="#F8766D" stroke-opacity="0.75" stroke-width="0.8"/><circle cx="114.37" cy="245.40" r="2.5" fill="#F8766D" fill-opacity="0.75" stroke="#F8766D" stroke-opacity="0.75" stroke-width="0.8"/><circle cx="141.61" cy="237.56" r="2.5" fill="#F8766D" fill-opacity="0.75" stroke="#F8766D" stroke-opacity="0.75" stroke-width="0.8"/><path d="M59.89 251.90L61.60 252.31L63.30 252.86L65.00 253.53L66.70 254.29L68.40 255.13L70.11 256.01L71.81 256.92L73.51 257.83L75.21 258.72L76.92 259.57L78.62 260.35L80.32 261.04L82.02 261.62L83.73 262.06L85.43 262.34L87.13 262.44L88.83 262.25L90.54 261.71L92.24 260.87L93.94 259.78L95.64 258.49L97.35 257.05L99.05 255.51L100.75 253.92L102.45 252.33L104.15 250.79L105.86 249.35L107.56 248.07L109.26 246.98L110.96 246.14L112.67 245.59L114.37 245.40L116.07 245.33L117.77 245.12L119.48 244.79L121.18 244.36L122.88 243.85L124.58 243.26L126.29 242.63L127.99 241.97L129.69 241.29L131.39 240.61L133.10 239.96L134.80 239.33L136.50 238.77L138.20 238.27L139.90 237.86L141.61 237.56" stroke="#F8766D" stroke-opacity="0.88" stroke-width="1.6" fill="none" stroke-linejoin="round" stroke-linecap="butt"/><path d="M59.89 214.91L61.60 214.64L63.30 214.28L65.00 213.84L66.70 213.34L68.40 212.79L70.11 212.20L71.81 211.60L73.51 211.00L75.21 210.41L76.92 209.86L78.62 209.34L80.32 208.88L82.02 208.50L83.73 208.21L85.43 208.03L87.13 207.96L88.83 208.01L90.54 208.14L92.24 208.35L93.94 208.63L95.64 208.95L97.35 209.31L99.05 209.69L100.75 210.09L102.45 210.49L104.15 210.87L105.86 211.23L107.56 211.56L109.26 211.83L110.96 212.04L112.67 212.17L114.37 212.22L116.07 212.10L117.77 211.77L119.48 211.24L121.18 210.55L122.88 209.73L124.58 208.80L126.29 207.79L127.99 206.73L129.69 205.64L131.39 204.56L133.10 203.51L134.80 202.51L136.50 201.60L138.20 200.81L139.90 200.15L141.61 199.67" stroke="#B79F00" stroke-opacity="0.88" stroke-width="1.6" fill="none" stroke-linejoin="round" stroke-linecap="butt"/><path d="M59.89 264.68L61.60 264.81L63.30 264.99L65.00 265.20L66.70 265.45L68.40 265.71L70.11 265.99L71.81 266.28L73.51 266.58L75.21 266.86L76.92 267.13L78.62 267.38L80.32 267.60L82.02 267.78L83.73 267.93L85.43 268.02L87.13 268.05L88.83 268.06L90.54 268.09L92.24 268.13L93.94 268.19L95.64 268.26L97.35 268.33L99.05 268.41L100.75 268.50L102.45 268.58L104.15 268.66L105.86 268.74L107.56 268.80L109.26 268.86L110.96 268.91L112.67 268.93L114.37 268.94L116.07 268.82L117.77 268.46L119.48 267.89L121.18 267.16L122.88 266.28L124.58 265.28L126.29 264.20L127.99 263.06L129.69 261.89L131.39 260.73L133.10 259.61L134.80 258.54L136.50 257.57L138.20 256.71L139.90 256.01L141.61 255.49" stroke="#00BA38" stroke-opacity="0.88" stroke-width="1.6" fill="none" stroke-linejoin="round" stroke-linecap="butt"/><path d="M59.89 259.75L61.60 259.53L63.30 259.22L65.00 258.85L66.70 258.43L68.40 257.97L70.11 257.48L71.81 256.98L73.51 256.47L75.21 255.98L76.92 255.51L78.62 255.08L80.32 254.70L82.02 254.38L83.73 254.13L85.43 253.98L87.13 253.92L88.83 254.10L90.54 254.59L92.24 255.35L93.94 256.34L95.64 257.51L97.35 258.82L99.05 260.21L100.75 261.66L102.45 263.10L104.15 264.50L105.86 265.80L107.56 266.98L109.26 267.96L110.96 268.73L112.67 269.22L114.37 269.39L116.07 269.38L117.77 269.34L119.48 269.27L121.18 269.18L122.88 269.08L124.58 268.96L126.29 268.84L127.99 268.71L129.69 268.57L131.39 268.43L133.10 268.30L134.80 268.18L136.50 268.06L138.20 267.97L139.90 267.88L141.61 267.82" stroke="#00BFC4" stroke-opacity="0.88" stroke-width="1.6" fill="none" stroke-linejoin="round" stroke-linecap="butt"/><path d="M59.89 202.80L61.60 203.03L63.30 203.33L65.00 203.70L66.70 204.13L68.40 204.59L70.11 205.08L71.81 205.58L73.51 206.08L75.21 206.58L76.92 207.05L78.62 207.48L80.32 207.86L82.02 208.18L83.73 208.42L85.43 208.58L87.13 208.63L88.83 208.54L90.54 208.26L92.24 207.83L93.94 207.27L95.64 206.61L97.35 205.87L99.05 205.08L100.75 204.26L102.45 203.45L104.15 202.66L105.86 201.92L107.56 201.26L109.26 200.70L110.96 200.27L112.67 199.99L114.37 199.89L116.07 199.87L117.77 199.80L119.48 199.70L121.18 199.56L122.88 199.40L124.58 199.22L126.29 199.02L127.99 198.81L129.69 198.60L131.39 198.39L133.10 198.18L134.80 197.98L136.50 197.80L138.20 197.65L139.90 197.52L141.61 197.42" stroke="#619CFF" stroke-opacity="0.88" stroke-width="1.6" fill="none" stroke-linejoin="round" stroke-linecap="butt"/><path d="M59.89 237.78L61.60 237.34L63.30 236.74L65.00 236.02L66.70 235.19L68.40 234.28L70.11 233.32L71.81 232.34L73.51 231.35L75.21 230.38L76.92 229.46L78.62 228.61L80.32 227.86L82.02 227.24L83.73 226.76L85.43 226.45L87.13 226.35L88.83 226.46L90.54 226.78L92.24 227.28L93.94 227.92L95.64 228.69L97.35 229.54L99.05 230.45L100.75 231.39L102.45 232.33L104.15 233.24L105.86 234.10L107.56 234.86L109.26 235.50L110.96 236.00L112.67 236.32L114.37 236.44L116.07 236.51L117.77 236.71L119.48 237.03L121.18 237.45L122.88 237.95L124.58 238.51L126.29 239.13L127.99 239.77L129.69 240.43L131.39 241.09L133.10 241.73L134.80 242.33L136.50 242.88L138.20 243.37L139.90 243.76L141.61 244.06" stroke="#F564E3" stroke-opacity="0.88" stroke-width="1.6" fill="none" stroke-linejoin="round" stroke-linecap="butt"/></g>
<text transform="translate(100.75,180.90) scale(1,1.07)" font-size="11.73" fill="#1A1A1A" text-anchor="middle">ACR-186</text>
<text transform="translate(36.80,201.90) scale(1,1.07)" font-size="11.73" fill="#4D4D4D" text-anchor="end">3</text>
<text transform="translate(36.80,224.32) scale(1,1.07)" font-size="11.73" fill="#4D4D4D" text-anchor="end">2</text>
<text transform="translate(36.80,246.74) scale(1,1.07)" font-size="11.73" fill="#4D4D4D" text-anchor="end">1</text>
<text transform="translate(36.80,269.16) scale(1,1.07)" font-size="11.73" fill="#4D4D4D" text-anchor="end">0</text>
<text transform="translate(36.80,291.58) scale(1,1.07)" font-size="11.73" fill="#4D4D4D" text-anchor="end">-1</text>
<g><path d="M165.28 208.41H279.68M165.28 230.83H279.68M165.28 253.25H279.68M165.28 275.67H279.68" stroke="#EBEBEB" stroke-width="0.53" fill="none"/><path d="M165.28 197.20H279.68M165.28 219.62H279.68M165.28 242.04H279.68M165.28 264.46H279.68M165.28 286.88H279.68M181.62 188.20V290.40M208.86 188.20V290.40M236.10 188.20V290.40M263.34 188.20V290.40" stroke="#EBEBEB" stroke-width="1.07" fill="none"/><circle cx="208.86" cy="235.99" r="2.5" fill="#F564E3" fill-opacity="0.75" stroke="#F564E3" stroke-opacity="0.75" stroke-width="0.8"/><circle cx="236.10" cy="232.62" r="2.5" fill="#F564E3" fill-opacity="0.75" stroke="#F564E3" stroke-opacity="0.75" stroke-width="0.8"/><circle cx="263.34" cy="239.80" r="2.5" fill="#F564E3" fill-opacity="0.75" stroke="#F564E3" stroke-opacity="0.75" stroke-width="0.8"/><circle cx="208.86" cy="206.62" r="2.5" fill="#619CFF" fill-opacity="0.75" stroke="#619CFF" stroke-opacity="0.75" stroke-width="0.8"/><circle cx="236.10" cy="200.79" r="2.5" fill="#619CFF" fill-opacity="0.75" stroke="#619CFF" stroke-opacity="0.75" stroke-width="0.8"/><circle cx="263.34" cy="194.96" r="2.5" fill="#619CFF" fill-opacity="0.75" stroke="#619CFF" stroke-opacity="0.75" stroke-width="0.8"/><circle cx="208.86" cy="248.09" r="2.5" fill="#00BFC4" fill-opacity="0.75" stroke="#00BFC4" stroke-opacity="0.75" stroke-width="0.8"/><circle cx="236.10" cy="259.98" r="2.5" fill="#00BFC4" fill-opacity="0.75" stroke="#00BFC4" stroke-opacity="0.75" stroke-width="0.8"/><circle cx="263.34" cy="277.46" r="2.5" fill="#00BFC4" fill-opacity="0.75" stroke="#00BFC4" stroke-opacity="0.75" stroke-width="0.8"/><circle cx="208.86" cy="240.25" r="2.5" fill="#00BA38" fill-opacity="0.75" stroke="#00BA38" stroke-opacity="0.75" stroke-width="0.8"/><circle cx="236.10" cy="242.71" r="2.5" fill="#00BA38" fill-opacity="0.75" stroke="#00BA38" stroke-opacity="0.75" stroke-width="0.8"/><circle cx="263.34" cy="236.44" r="2.5" fill="#00BA38" fill-opacity="0.75" stroke="#00BA38" stroke-opacity="0.75" stroke-width="0.8"/><circle cx="208.86" cy="231.95" r="2.5" fill="#B79F00" fill-opacity="0.75" stroke="#B79F00" stroke-opacity="0.75" stroke-width="0.8"/><circle cx="236.10" cy="205.94" r="2.5" fill="#B79F00" fill-opacity="0.75" stroke="#B79F00" stroke-opacity="0.75" stroke-width="0.8"/><circle cx="263.34" cy="203.70" r="2.5" fill="#B79F00" fill-opacity="0.75" stroke="#B79F00" stroke-opacity="0.75" stroke-width="0.8"/><circle cx="208.86" cy="255.94" r="2.5" fill="#F8766D" fill-opacity="0.75" stroke="#F8766D" stroke-opacity="0.75" stroke-width="0.8"/><circle cx="236.10" cy="240.25" r="2.5" fill="#F8766D" fill-opacity="0.75" stroke="#F8766D" stroke-opacity="0.75" stroke-width="0.8"/><circle cx="263.34" cy="231.28" r="2.5" fill="#F8766D" fill-opacity="0.75" stroke="#F8766D" stroke-opacity="0.75" stroke-width="0.8"/><path d="M208.86 255.94L210.56 255.76L212.27 255.27L213.97 254.49L215.67 253.49L217.37 252.30L219.08 250.97L220.78 249.56L222.48 248.09L224.18 246.63L225.88 245.21L227.59 243.89L229.29 242.70L230.99 241.69L232.69 240.92L234.40 240.42L236.10 240.25L237.80 240.15L239.50 239.86L241.21 239.42L242.91 238.85L244.61 238.17L246.31 237.41L248.02 236.60L249.72 235.76L251.42 234.93L253.12 234.12L254.83 233.36L256.53 232.68L258.23 232.11L259.93 231.66L261.63 231.38L263.34 231.28" stroke="#F8766D" stroke-opacity="0.88" stroke-width="1.6" fill="none" stroke-linejoin="round" stroke-linecap="butt"/><path d="M208.86 231.95L210.56 231.66L212.27 230.83L213.97 229.55L215.67 227.89L217.37 225.92L219.08 223.72L220.78 221.37L222.48 218.95L224.18 216.52L225.88 214.17L227.59 211.98L229.29 210.01L230.99 208.34L232.69 207.06L234.40 206.24L236.10 205.94L237.80 205.92L239.50 205.85L241.21 205.74L242.91 205.59L244.61 205.42L246.31 205.23L248.02 205.03L249.72 204.82L251.42 204.61L253.12 204.41L254.83 204.22L256.53 204.05L258.23 203.91L259.93 203.80L261.63 203.73L263.34 203.70" stroke="#B79F00" stroke-opacity="0.88" stroke-width="1.6" fill="none" stroke-linejoin="round" stroke-linecap="butt"/><path d="M208.86 240.25L210.56 240.27L212.27 240.35L213.97 240.47L215.67 240.63L217.37 240.82L219.08 241.03L220.78 241.25L222.48 241.48L224.18 241.71L225.88 241.93L227.59 242.14L229.29 242.33L230.99 242.49L232.69 242.61L234.40 242.68L236.10 242.71L237.80 242.64L239.50 242.44L241.21 242.13L242.91 241.73L244.61 241.26L246.31 240.73L248.02 240.16L249.72 239.57L251.42 238.99L253.12 238.42L254.83 237.89L256.53 237.42L258.23 237.01L259.93 236.70L261.63 236.51L263.34 236.44" stroke="#00BA38" stroke-opacity="0.88" stroke-width="1.6" fill="none" stroke-linejoin="round" stroke-linecap="butt"/><path d="M208.86 248.09L210.56 248.23L212.27 248.60L213.97 249.19L215.67 249.95L217.37 250.85L219.08 251.85L220.78 252.93L222.48 254.03L224.18 255.14L225.88 256.22L227.59 257.22L229.29 258.12L230.99 258.88L232.69 259.47L234.40 259.84L236.10 259.98L237.80 260.17L239.50 260.73L241.21 261.59L242.91 262.71L244.61 264.03L246.31 265.51L248.02 267.09L249.72 268.72L251.42 270.35L253.12 271.93L254.83 273.41L256.53 274.73L258.23 275.85L259.93 276.71L261.63 277.27L263.34 277.46" stroke="#00BFC4" stroke-opacity="0.88" stroke-width="1.6" fill="none" stroke-linejoin="round" stroke-linecap="butt"/><path d="M208.86 206.62L210.56 206.55L212.27 206.37L213.97 206.08L215.67 205.71L217.37 205.26L219.08 204.77L220.78 204.25L222.48 203.70L224.18 203.16L225.88 202.63L227.59 202.14L229.29 201.70L230.99 201.33L232.69 201.04L234.40 200.85L236.10 200.79L237.80 200.72L239.50 200.54L241.21 200.25L242.91 199.88L244.61 199.44L246.31 198.94L248.02 198.42L249.72 197.87L251.42 197.33L253.12 196.80L254.83 196.31L256.53 195.87L258.23 195.50L259.93 195.21L261.63 195.02L263.34 194.96" stroke="#619CFF" stroke-opacity="0.88" stroke-width="1.6" fill="none" stroke-linejoin="round" stroke-linecap="butt"/><path d="M208.86 235.99L210.56 235.95L212.27 235.84L213.97 235.68L215.67 235.46L217.37 235.21L219.08 234.92L220.78 234.62L222.48 234.31L224.18 233.99L225.88 233.69L227.59 233.40L229.29 233.15L230.99 232.93L232.69 232.77L234.40 232.66L236.10 232.62L237.80 232.70L239.50 232.93L241.21 233.29L242.91 233.74L244.61 234.29L246.31 234.89L248.02 235.54L249.72 236.21L251.42 236.88L253.12 237.53L254.83 238.13L256.53 238.68L258.23 239.14L259.93 239.49L261.63 239.72L263.34 239.80" stroke="#F564E3" stroke-opacity="0.88" stroke-width="1.6" fill="none" stroke-linejoin="round" stroke-linecap="butt"/></g>
<text transform="translate(222.48,180.90) scale(1,1.07)" font-size="11.73" fill="#1A1A1A" text-anchor="middle">ACR-225</text>
<g><path d="M287.01 208.41H401.41M287.01 230.83H401.41M287.01 253.25H401.41M287.01 275.67H401.41" stroke="#EBEBEB" stroke-width="0.53" fill="none"/><path d="M287.01 197.20H401.41M287.01 219.62H401.41M287.01 242.04H401.41M287.01 264.46H401.41M287.01 286.88H401.41M303.35 188.20V290.40M330.59 188.20V290.40M357.83 188.20V290.40M385.07 188.20V290.40" stroke="#EBEBEB" stroke-width="1.07" fill="none"/><circle cx="303.35" cy="240.25" r="2.5" fill="#F564E3" fill-opacity="0.75" stroke="#F564E3" stroke-opacity="0.75" stroke-width="0.8"/><circle cx="330.59" cy="232.40" r="2.5" fill="#F564E3" fill-opacity="0.75" stroke="#F564E3" stroke-opacity="0.75" stroke-width="0.8"/><circle cx="357.83" cy="235.31" r="2.5" fill="#F564E3" fill-opacity="0.75" stroke="#F564E3" stroke-opacity="0.75" stroke-width="0.8"/><circle cx="385.07" cy="237.33" r="2.5" fill="#F564E3" fill-opacity="0.75" stroke="#F564E3" stroke-opacity="0.75" stroke-width="0.8"/><circle cx="303.35" cy="196.98" r="2.5" fill="#619CFF" fill-opacity="0.75" stroke="#619CFF" stroke-opacity="0.75" stroke-width="0.8"/><circle cx="330.59" cy="201.01" r="2.5" fill="#619CFF" fill-opacity="0.75" stroke="#619CFF" stroke-opacity="0.75" stroke-width="0.8"/><circle cx="357.83" cy="201.01" r="2.5" fill="#619CFF" fill-opacity="0.75" stroke="#619CFF" stroke-opacity="0.75" stroke-width="0.8"/><circle cx="385.07" cy="202.36" r="2.5" fill="#619CFF" fill-opacity="0.75" stroke="#619CFF" stroke-opacity="0.75" stroke-width="0.8"/><circle cx="303.35" cy="285.98" r="2.5" fill="#00BFC4" fill-opacity="0.75" stroke="#00BFC4" stroke-opacity="0.75" stroke-width="0.8"/><circle cx="330.59" cy="254.60" r="2.5" fill="#00BFC4" fill-opacity="0.75" stroke="#00BFC4" stroke-opacity="0.75" stroke-width="0.8"/><circle cx="357.83" cy="264.46" r="2.5" fill="#00BFC4" fill-opacity="0.75" stroke="#00BFC4" stroke-opacity="0.75" stroke-width="0.8"/><circle cx="385.07" cy="280.60" r="2.5" fill="#00BFC4" fill-opacity="0.75" stroke="#00BFC4" stroke-opacity="0.75" stroke-width="0.8"/><circle cx="303.35" cy="255.94" r="2.5" fill="#00BA38" fill-opacity="0.75" stroke="#00BA38" stroke-opacity="0.75" stroke-width="0.8"/><circle cx="330.59" cy="256.61" r="2.5" fill="#00BA38" fill-opacity="0.75" stroke="#00BA38" stroke-opacity="0.75" stroke-width="0.8"/><circle cx="357.83" cy="251.23" r="2.5" fill="#00BA38" fill-opacity="0.75" stroke="#00BA38" stroke-opacity="0.75" stroke-width="0.8"/><circle cx="385.07" cy="246.08" r="2.5" fill="#00BA38" fill-opacity="0.75" stroke="#00BA38" stroke-opacity="0.75" stroke-width="0.8"/><circle cx="303.35" cy="195.41" r="2.5" fill="#B79F00" fill-opacity="0.75" stroke="#B79F00" stroke-opacity="0.75" stroke-width="0.8"/><circle cx="330.59" cy="216.48" r="2.5" fill="#B79F00" fill-opacity="0.75" stroke="#B79F00" stroke-opacity="0.75" stroke-width="0.8"/><circle cx="357.83" cy="205.27" r="2.5" fill="#B79F00" fill-opacity="0.75" stroke="#B79F00" stroke-opacity="0.75" stroke-width="0.8"/><circle cx="385.07" cy="208.86" r="2.5" fill="#B79F00" fill-opacity="0.75" stroke="#B79F00" stroke-opacity="0.75" stroke-width="0.8"/><circle cx="303.35" cy="240.69" r="2.5" fill="#F8766D" fill-opacity="0.75" stroke="#F8766D" stroke-opacity="0.75" stroke-width="0.8"/><circle cx="330.59" cy="254.15" r="2.5" fill="#F8766D" fill-opacity="0.75" stroke="#F8766D" stroke-opacity="0.75" stroke-width="0.8"/><circle cx="357.83" cy="246.52" r="2.5" fill="#F8766D" fill-opacity="0.75" stroke="#F8766D" stroke-opacity="0.75" stroke-width="0.8"/><circle cx="385.07" cy="240.92" r="2.5" fill="#F8766D" fill-opacity="0.75" stroke="#F8766D" stroke-opacity="0.75" stroke-width="0.8"/><path d="M303.35 240.69L305.06 241.22L306.76 241.92L308.46 242.77L310.16 243.74L311.86 244.81L313.57 245.94L315.27 247.10L316.97 248.26L318.67 249.40L320.38 250.48L322.08 251.48L323.78 252.36L325.48 253.10L327.19 253.66L328.89 254.02L330.59 254.15L332.29 254.06L334.00 253.82L335.70 253.44L337.40 252.96L339.10 252.38L340.81 251.73L342.51 251.05L344.21 250.34L345.91 249.62L347.61 248.94L349.32 248.29L351.02 247.72L352.72 247.23L354.42 246.85L356.13 246.61L357.83 246.52L359.53 246.47L361.23 246.32L362.94 246.09L364.64 245.78L366.34 245.41L368.04 245.00L369.75 244.55L371.45 244.07L373.15 243.59L374.85 243.10L376.56 242.63L378.26 242.19L379.96 241.78L381.66 241.43L383.36 241.14L385.07 240.92" stroke="#F8766D" stroke-opacity="0.88" stroke-width="1.6" fill="none" stroke-linejoin="round" stroke-linecap="butt"/><path d="M303.35 195.41L305.06 196.22L306.76 197.32L308.46 198.66L310.16 200.18L311.86 201.85L313.57 203.62L315.27 205.44L316.97 207.26L318.67 209.04L320.38 210.74L322.08 212.30L323.78 213.68L325.48 214.84L327.19 215.72L328.89 216.28L330.59 216.48L332.29 216.36L334.00 216.00L335.70 215.45L337.40 214.73L339.10 213.88L340.81 212.93L342.51 211.92L344.21 210.88L345.91 209.83L347.61 208.82L349.32 207.87L351.02 207.02L352.72 206.31L354.42 205.75L356.13 205.40L357.83 205.27L359.53 205.30L361.23 205.40L362.94 205.55L364.64 205.75L366.34 205.98L368.04 206.25L369.75 206.54L371.45 206.84L373.15 207.15L374.85 207.46L376.56 207.76L378.26 208.05L379.96 208.31L381.66 208.53L383.36 208.72L385.07 208.86" stroke="#B79F00" stroke-opacity="0.88" stroke-width="1.6" fill="none" stroke-linejoin="round" stroke-linecap="butt"/><path d="M303.35 255.94L305.06 255.97L306.76 256.00L308.46 256.04L310.16 256.09L311.86 256.15L313.57 256.20L315.27 256.26L316.97 256.32L318.67 256.38L320.38 256.43L322.08 256.48L323.78 256.52L325.48 256.56L327.19 256.59L328.89 256.61L330.59 256.61L332.29 256.55L334.00 256.38L335.70 256.12L337.40 255.77L339.10 255.37L340.81 254.91L342.51 254.42L344.21 253.92L345.91 253.42L347.61 252.93L349.32 252.48L351.02 252.07L352.72 251.73L354.42 251.46L356.13 251.29L357.83 251.23L359.53 251.18L361.23 251.05L362.94 250.83L364.64 250.55L366.34 250.21L368.04 249.83L369.75 249.41L371.45 248.98L373.15 248.53L374.85 248.08L376.56 247.65L378.26 247.24L379.96 246.87L381.66 246.54L383.36 246.28L385.07 246.08" stroke="#00BA38" stroke-opacity="0.88" stroke-width="1.6" fill="none" stroke-linejoin="round" stroke-linecap="butt"/><path d="M303.35 285.98L305.06 284.77L306.76 283.13L308.46 281.14L310.16 278.87L311.86 276.39L313.57 273.75L315.27 271.04L316.97 268.33L318.67 265.67L320.38 263.15L322.08 260.82L323.78 258.76L325.48 257.04L327.19 255.73L328.89 254.89L330.59 254.60L332.29 254.71L334.00 255.02L335.70 255.51L337.40 256.14L339.10 256.88L340.81 257.72L342.51 258.61L344.21 259.53L345.91 260.45L347.61 261.34L349.32 262.17L351.02 262.92L352.72 263.55L354.42 264.04L356.13 264.35L357.83 264.46L359.53 264.61L361.23 265.04L362.94 265.72L364.64 266.60L366.34 267.66L368.04 268.86L369.75 270.16L371.45 271.52L373.15 272.92L374.85 274.31L376.56 275.67L378.26 276.95L379.96 278.11L381.66 279.14L383.36 279.98L385.07 280.60" stroke="#00BFC4" stroke-opacity="0.88" stroke-width="1.6" fill="none" stroke-linejoin="round" stroke-linecap="butt"/><path d="M303.35 196.98L305.06 197.13L306.76 197.34L308.46 197.60L310.16 197.89L311.86 198.21L313.57 198.55L315.27 198.90L316.97 199.25L318.67 199.59L320.38 199.91L322.08 200.21L323.78 200.48L325.48 200.70L327.19 200.87L328.89 200.97L330.59 201.01L332.29 201.01L334.00 201.01L335.70 201.01L337.40 201.01L339.10 201.01L340.81 201.01L342.51 201.01L344.21 201.01L345.91 201.01L347.61 201.01L349.32 201.01L351.02 201.01L352.72 201.01L354.42 201.01L356.13 201.01L357.83 201.01L359.53 201.02L361.23 201.06L362.94 201.12L364.64 201.19L366.34 201.28L368.04 201.38L369.75 201.49L371.45 201.60L373.15 201.72L374.85 201.83L376.56 201.95L378.26 202.05L379.96 202.15L381.66 202.23L383.36 202.30L385.07 202.36" stroke="#619CFF" stroke-opacity="0.88" stroke-width="1.6" fill="none" stroke-linejoin="round" stroke-linecap="butt"/><path d="M303.35 240.25L305.06 239.94L306.76 239.53L308.46 239.04L310.16 238.47L311.86 237.85L313.57 237.19L315.27 236.51L316.97 235.83L318.67 235.17L320.38 234.54L322.08 233.96L323.78 233.44L325.48 233.01L327.19 232.68L328.89 232.47L330.59 232.40L332.29 232.43L334.00 232.52L335.70 232.67L337.40 232.85L339.10 233.08L340.81 233.32L342.51 233.58L344.21 233.86L345.91 234.13L347.61 234.39L349.32 234.64L351.02 234.86L352.72 235.05L354.42 235.19L356.13 235.28L357.83 235.31L359.53 235.33L361.23 235.39L362.94 235.47L364.64 235.58L366.34 235.71L368.04 235.86L369.75 236.03L371.45 236.20L373.15 236.37L374.85 236.55L376.56 236.71L378.26 236.87L379.96 237.02L381.66 237.15L383.36 237.25L385.07 237.33" stroke="#F564E3" stroke-opacity="0.88" stroke-width="1.6" fill="none" stroke-linejoin="round" stroke-linecap="butt"/></g>
<text transform="translate(344.21,180.90) scale(1,1.07)" font-size="11.73" fill="#1A1A1A" text-anchor="middle">ACR-229</text>
<text transform="translate(303.05,297.50) rotate(-45) scale(1,1.07)" x="0" y="8.0" font-size="11.73" fill="#4D4D4D" text-anchor="end">TP1</text>
<text transform="translate(330.29,297.50) rotate(-45) scale(1,1.07)" x="0" y="8.0" font-size="11.73" fill="#4D4D4D" text-anchor="end">TP2</text>
<text transform="translate(357.53,297.50) rotate(-45) scale(1,1.07)" x="0" y="8.0" font-size="11.73" fill="#4D4D4D" text-anchor="end">TP3</text>
<text transform="translate(384.77,297.50) rotate(-45) scale(1,1.07)" x="0" y="8.0" font-size="11.73" fill="#4D4D4D" text-anchor="end">TP4</text>
<g><path d="M408.74 208.41H523.14M408.74 230.83H523.14M408.74 253.25H523.14M408.74 275.67H523.14" stroke="#EBEBEB" stroke-width="0.53" fill="none"/><path d="M408.74 197.20H523.14M408.74 219.62H523.14M408.74 242.04H523.14M408.74 264.46H523.14M408.74 286.88H523.14M425.08 188.20V290.40M452.32 188.20V290.40M479.56 188.20V290.40M506.80 188.20V290.40" stroke="#EBEBEB" stroke-width="1.07" fill="none"/><circle cx="425.08" cy="237.78" r="2.5" fill="#F564E3" fill-opacity="0.75" stroke="#F564E3" stroke-opacity="0.75" stroke-width="0.8"/><circle cx="452.32" cy="232.18" r="2.5" fill="#F564E3" fill-opacity="0.75" stroke="#F564E3" stroke-opacity="0.75" stroke-width="0.8"/><circle cx="479.56" cy="225.90" r="2.5" fill="#F564E3" fill-opacity="0.75" stroke="#F564E3" stroke-opacity="0.75" stroke-width="0.8"/><circle cx="506.80" cy="242.26" r="2.5" fill="#F564E3" fill-opacity="0.75" stroke="#F564E3" stroke-opacity="0.75" stroke-width="0.8"/><circle cx="425.08" cy="197.65" r="2.5" fill="#619CFF" fill-opacity="0.75" stroke="#619CFF" stroke-opacity="0.75" stroke-width="0.8"/><circle cx="452.32" cy="204.82" r="2.5" fill="#619CFF" fill-opacity="0.75" stroke="#619CFF" stroke-opacity="0.75" stroke-width="0.8"/><circle cx="479.56" cy="208.63" r="2.5" fill="#619CFF" fill-opacity="0.75" stroke="#619CFF" stroke-opacity="0.75" stroke-width="0.8"/><circle cx="506.80" cy="194.51" r="2.5" fill="#619CFF" fill-opacity="0.75" stroke="#619CFF" stroke-opacity="0.75" stroke-width="0.8"/><circle cx="425.08" cy="276.34" r="2.5" fill="#00BFC4" fill-opacity="0.75" stroke="#00BFC4" stroke-opacity="0.75" stroke-width="0.8"/><circle cx="452.32" cy="248.77" r="2.5" fill="#00BFC4" fill-opacity="0.75" stroke="#00BFC4" stroke-opacity="0.75" stroke-width="0.8"/><circle cx="479.56" cy="249.44" r="2.5" fill="#00BFC4" fill-opacity="0.75" stroke="#00BFC4" stroke-opacity="0.75" stroke-width="0.8"/><circle cx="506.80" cy="276.57" r="2.5" fill="#00BFC4" fill-opacity="0.75" stroke="#00BFC4" stroke-opacity="0.75" stroke-width="0.8"/><circle cx="425.08" cy="243.16" r="2.5" fill="#00BA38" fill-opacity="0.75" stroke="#00BA38" stroke-opacity="0.75" stroke-width="0.8"/><circle cx="452.32" cy="251.90" r="2.5" fill="#00BA38" fill-opacity="0.75" stroke="#00BA38" stroke-opacity="0.75" stroke-width="0.8"/><circle cx="479.56" cy="248.99" r="2.5" fill="#00BA38" fill-opacity="0.75" stroke="#00BA38" stroke-opacity="0.75" stroke-width="0.8"/><circle cx="506.80" cy="241.37" r="2.5" fill="#00BA38" fill-opacity="0.75" stroke="#00BA38" stroke-opacity="0.75" stroke-width="0.8"/><circle cx="425.08" cy="201.24" r="2.5" fill="#B79F00" fill-opacity="0.75" stroke="#B79F00" stroke-opacity="0.75" stroke-width="0.8"/><circle cx="452.32" cy="214.01" r="2.5" fill="#B79F00" fill-opacity="0.75" stroke="#B79F00" stroke-opacity="0.75" stroke-width="0.8"/><circle cx="479.56" cy="212.67" r="2.5" fill="#B79F00" fill-opacity="0.75" stroke="#B79F00" stroke-opacity="0.75" stroke-width="0.8"/><circle cx="506.80" cy="201.24" r="2.5" fill="#B79F00" fill-opacity="0.75" stroke="#B79F00" stroke-opacity="0.75" stroke-width="0.8"/><circle cx="425.08" cy="233.52" r="2.5" fill="#F8766D" fill-opacity="0.75" stroke="#F8766D" stroke-opacity="0.75" stroke-width="0.8"/><circle cx="452.32" cy="257.51" r="2.5" fill="#F8766D" fill-opacity="0.75" stroke="#F8766D" stroke-opacity="0.75" stroke-width="0.8"/><circle cx="479.56" cy="256.84" r="2.5" fill="#F8766D" fill-opacity="0.75" stroke="#F8766D" stroke-opacity="0.75" stroke-width="0.8"/><circle cx="506.80" cy="235.99" r="2.5" fill="#F8766D" fill-opacity="0.75" stroke="#F8766D" stroke-opacity="0.75" stroke-width="0.8"/><path d="M425.08 233.52L426.79 234.45L428.49 235.70L430.19 237.22L431.89 238.96L433.59 240.86L435.30 242.87L437.00 244.94L438.70 247.01L440.40 249.04L442.11 250.97L443.81 252.75L445.51 254.32L447.21 255.64L448.92 256.64L450.62 257.28L452.32 257.51L454.02 257.50L455.73 257.48L457.43 257.45L459.13 257.40L460.83 257.35L462.54 257.30L464.24 257.24L465.94 257.17L467.64 257.11L469.34 257.05L471.05 256.99L472.75 256.94L474.45 256.90L476.15 256.87L477.86 256.84L479.56 256.84L481.26 256.64L482.96 256.08L484.67 255.21L486.37 254.07L488.07 252.70L489.77 251.16L491.48 249.48L493.18 247.72L494.88 245.91L496.58 244.11L498.29 242.36L499.99 240.71L501.69 239.20L503.39 237.88L505.09 236.79L506.80 235.99" stroke="#F8766D" stroke-opacity="0.88" stroke-width="1.6" fill="none" stroke-linejoin="round" stroke-linecap="butt"/><path d="M425.08 201.24L426.79 201.73L428.49 202.40L430.19 203.21L431.89 204.13L433.59 205.14L435.30 206.22L437.00 207.32L438.70 208.42L440.40 209.51L442.11 210.53L443.81 211.48L445.51 212.32L447.21 213.02L448.92 213.55L450.62 213.89L452.32 214.01L454.02 214.00L455.73 213.96L457.43 213.89L459.13 213.80L460.83 213.70L462.54 213.59L464.24 213.47L465.94 213.34L467.64 213.22L469.34 213.10L471.05 212.98L472.75 212.88L474.45 212.79L476.15 212.73L477.86 212.68L479.56 212.67L481.26 212.56L482.96 212.26L484.67 211.78L486.37 211.15L488.07 210.40L489.77 209.55L491.48 208.63L493.18 207.67L494.88 206.68L496.58 205.69L498.29 204.73L499.99 203.83L501.69 203.00L503.39 202.27L505.09 201.68L506.80 201.24" stroke="#B79F00" stroke-opacity="0.88" stroke-width="1.6" fill="none" stroke-linejoin="round" stroke-linecap="butt"/><path d="M425.08 243.16L426.79 243.50L428.49 243.96L430.19 244.51L431.89 245.14L433.59 245.83L435.30 246.57L437.00 247.32L438.70 248.08L440.40 248.82L442.11 249.52L443.81 250.17L445.51 250.74L447.21 251.22L448.92 251.59L450.62 251.82L452.32 251.90L454.02 251.87L455.73 251.78L457.43 251.64L459.13 251.45L460.83 251.23L462.54 250.98L464.24 250.72L465.94 250.45L467.64 250.18L469.34 249.91L471.05 249.67L472.75 249.45L474.45 249.26L476.15 249.12L477.86 249.02L479.56 248.99L481.26 248.92L482.96 248.71L484.67 248.40L486.37 247.98L488.07 247.48L489.77 246.91L491.48 246.30L493.18 245.66L494.88 245.00L496.58 244.34L498.29 243.70L499.99 243.09L501.69 242.54L503.39 242.06L505.09 241.66L506.80 241.37" stroke="#00BA38" stroke-opacity="0.88" stroke-width="1.6" fill="none" stroke-linejoin="round" stroke-linecap="butt"/><path d="M425.08 276.34L426.79 275.28L428.49 273.84L430.19 272.09L431.89 270.09L433.59 267.91L435.30 265.60L437.00 263.22L438.70 260.83L440.40 258.50L442.11 256.28L443.81 254.24L445.51 252.43L447.21 250.92L448.92 249.76L450.62 249.03L452.32 248.77L454.02 248.77L455.73 248.79L457.43 248.83L459.13 248.87L460.83 248.92L462.54 248.98L464.24 249.04L465.94 249.10L467.64 249.17L469.34 249.23L471.05 249.28L472.75 249.33L474.45 249.38L476.15 249.41L477.86 249.43L479.56 249.44L481.26 249.69L482.96 250.42L484.67 251.55L486.37 253.04L488.07 254.82L489.77 256.83L491.48 259.01L493.18 261.31L494.88 263.66L496.58 266.00L498.29 268.27L499.99 270.42L501.69 272.38L503.39 274.10L505.09 275.52L506.80 276.57" stroke="#00BFC4" stroke-opacity="0.88" stroke-width="1.6" fill="none" stroke-linejoin="round" stroke-linecap="butt"/><path d="M425.08 197.65L426.79 197.93L428.49 198.30L430.19 198.75L431.89 199.27L433.59 199.84L435.30 200.44L437.00 201.06L438.70 201.68L440.40 202.29L442.11 202.87L443.81 203.40L445.51 203.87L447.21 204.26L448.92 204.56L450.62 204.76L452.32 204.82L454.02 204.87L455.73 204.99L457.43 205.17L459.13 205.42L460.83 205.71L462.54 206.03L464.24 206.37L465.94 206.73L467.64 207.08L469.34 207.43L471.05 207.75L472.75 208.04L474.45 208.28L476.15 208.47L477.86 208.59L479.56 208.63L481.26 208.50L482.96 208.12L484.67 207.53L486.37 206.76L488.07 205.83L489.77 204.79L491.48 203.65L493.18 202.45L494.88 201.23L496.58 200.01L498.29 198.83L499.99 197.71L501.69 196.69L503.39 195.79L505.09 195.06L506.80 194.51" stroke="#619CFF" stroke-opacity="0.88" stroke-width="1.6" fill="none" stroke-linejoin="round" stroke-linecap="butt"/><path d="M425.08 237.78L426.79 237.56L428.49 237.27L430.19 236.92L431.89 236.51L433.59 236.07L435.30 235.60L437.00 235.11L438.70 234.63L440.40 234.15L442.11 233.70L443.81 233.29L445.51 232.92L447.21 232.61L448.92 232.38L450.62 232.23L452.32 232.18L454.02 232.10L455.73 231.91L457.43 231.60L459.13 231.19L460.83 230.72L462.54 230.19L464.24 229.62L465.94 229.04L467.64 228.45L469.34 227.88L471.05 227.35L472.75 226.88L474.45 226.48L476.15 226.17L477.86 225.97L479.56 225.90L481.26 226.05L482.96 226.49L484.67 227.17L486.37 228.07L488.07 229.14L489.77 230.36L491.48 231.67L493.18 233.06L494.88 234.47L496.58 235.89L498.29 237.26L499.99 238.56L501.69 239.74L503.39 240.78L505.09 241.63L506.80 242.26" stroke="#F564E3" stroke-opacity="0.88" stroke-width="1.6" fill="none" stroke-linejoin="round" stroke-linecap="butt"/></g>
<text transform="translate(465.94,180.90) scale(1,1.07)" font-size="11.73" fill="#1A1A1A" text-anchor="middle">ACR-237</text>
<text transform="translate(424.78,297.50) rotate(-45) scale(1,1.07)" x="0" y="8.0" font-size="11.73" fill="#4D4D4D" text-anchor="end">TP1</text>
<text transform="translate(452.02,297.50) rotate(-45) scale(1,1.07)" x="0" y="8.0" font-size="11.73" fill="#4D4D4D" text-anchor="end">TP2</text>
<text transform="translate(479.26,297.50) rotate(-45) scale(1,1.07)" x="0" y="8.0" font-size="11.73" fill="#4D4D4D" text-anchor="end">TP3</text>
<text transform="translate(506.50,297.50) rotate(-45) scale(1,1.07)" x="0" y="8.0" font-size="11.73" fill="#4D4D4D" text-anchor="end">TP4</text>
<g><path d="M43.55 341.51H157.95M43.55 363.93H157.95M43.55 386.35H157.95M43.55 408.77H157.95" stroke="#EBEBEB" stroke-width="0.53" fill="none"/><path d="M43.55 330.30H157.95M43.55 352.72H157.95M43.55 375.14H157.95M43.55 397.56H157.95M43.55 419.98H157.95M59.89 321.30V423.50M87.13 321.30V423.50M114.37 321.30V423.50M141.61 321.30V423.50" stroke="#EBEBEB" stroke-width="1.07" fill="none"/><circle cx="59.89" cy="376.93" r="2.5" fill="#F564E3" fill-opacity="0.75" stroke="#F564E3" stroke-opacity="0.75" stroke-width="0.8"/><circle cx="87.13" cy="371.78" r="2.5" fill="#F564E3" fill-opacity="0.75" stroke="#F564E3" stroke-opacity="0.75" stroke-width="0.8"/><circle cx="114.37" cy="368.19" r="2.5" fill="#F564E3" fill-opacity="0.75" stroke="#F564E3" stroke-opacity="0.75" stroke-width="0.8"/><circle cx="141.61" cy="373.79" r="2.5" fill="#F564E3" fill-opacity="0.75" stroke="#F564E3" stroke-opacity="0.75" stroke-width="0.8"/><circle cx="59.89" cy="326.94" r="2.5" fill="#619CFF" fill-opacity="0.75" stroke="#619CFF" stroke-opacity="0.75" stroke-width="0.8"/><circle cx="87.13" cy="335.01" r="2.5" fill="#619CFF" fill-opacity="0.75" stroke="#619CFF" stroke-opacity="0.75" stroke-width="0.8"/><circle cx="114.37" cy="334.34" r="2.5" fill="#619CFF" fill-opacity="0.75" stroke="#619CFF" stroke-opacity="0.75" stroke-width="0.8"/><circle cx="141.61" cy="325.59" r="2.5" fill="#619CFF" fill-opacity="0.75" stroke="#619CFF" stroke-opacity="0.75" stroke-width="0.8"/><circle cx="59.89" cy="413.25" r="2.5" fill="#00BFC4" fill-opacity="0.75" stroke="#00BFC4" stroke-opacity="0.75" stroke-width="0.8"/><circle cx="87.13" cy="378.73" r="2.5" fill="#00BFC4" fill-opacity="0.75" stroke="#00BFC4" stroke-opacity="0.75" stroke-width="0.8"/><circle cx="114.37" cy="393.75" r="2.5" fill="#00BFC4" fill-opacity="0.75" stroke="#00BFC4" stroke-opacity="0.75" stroke-width="0.8"/><circle cx="141.61" cy="410.56" r="2.5" fill="#00BFC4" fill-opacity="0.75" stroke="#00BFC4" stroke-opacity="0.75" stroke-width="0.8"/><circle cx="59.89" cy="378.05" r="2.5" fill="#00BA38" fill-opacity="0.75" stroke="#00BA38" stroke-opacity="0.75" stroke-width="0.8"/><circle cx="87.13" cy="393.75" r="2.5" fill="#00BA38" fill-opacity="0.75" stroke="#00BA38" stroke-opacity="0.75" stroke-width="0.8"/><circle cx="114.37" cy="385.00" r="2.5" fill="#00BA38" fill-opacity="0.75" stroke="#00BA38" stroke-opacity="0.75" stroke-width="0.8"/><circle cx="141.61" cy="375.81" r="2.5" fill="#00BA38" fill-opacity="0.75" stroke="#00BA38" stroke-opacity="0.75" stroke-width="0.8"/><circle cx="59.89" cy="330.52" r="2.5" fill="#B79F00" fill-opacity="0.75" stroke="#B79F00" stroke-opacity="0.75" stroke-width="0.8"/><circle cx="87.13" cy="348.68" r="2.5" fill="#B79F00" fill-opacity="0.75" stroke="#B79F00" stroke-opacity="0.75" stroke-width="0.8"/><circle cx="114.37" cy="338.82" r="2.5" fill="#B79F00" fill-opacity="0.75" stroke="#B79F00" stroke-opacity="0.75" stroke-width="0.8"/><circle cx="141.61" cy="329.18" r="2.5" fill="#B79F00" fill-opacity="0.75" stroke="#B79F00" stroke-opacity="0.75" stroke-width="0.8"/><circle cx="59.89" cy="367.97" r="2.5" fill="#F8766D" fill-opacity="0.75" stroke="#F8766D" stroke-opacity="0.75" stroke-width="0.8"/><circle cx="87.13" cy="389.04" r="2.5" fill="#F8766D" fill-opacity="0.75" stroke="#F8766D" stroke-opacity="0.75" stroke-width="0.8"/><circle cx="114.37" cy="381.19" r="2.5" fill="#F8766D" fill-opacity="0.75" stroke="#F8766D" stroke-opacity="0.75" stroke-width="0.8"/><circle cx="141.61" cy="367.97" r="2.5" fill="#F8766D" fill-opacity="0.75" stroke="#F8766D" stroke-opacity="0.75" stroke-width="0.8"/><path d="M59.89 367.97L61.60 368.78L63.30 369.88L65.00 371.21L66.70 372.74L68.40 374.41L70.11 376.18L71.81 378.00L73.51 379.82L75.21 381.60L76.92 383.30L78.62 384.86L80.32 386.24L82.02 387.40L83.73 388.28L85.43 388.84L87.13 389.04L88.83 388.95L90.54 388.70L92.24 388.32L93.94 387.81L95.64 387.22L97.35 386.56L99.05 385.85L100.75 385.12L102.45 384.39L104.15 383.68L105.86 383.01L107.56 382.42L109.26 381.92L110.96 381.53L112.67 381.28L114.37 381.19L116.07 381.07L117.77 380.72L119.48 380.16L121.18 379.44L122.88 378.57L124.58 377.59L126.29 376.53L127.99 375.41L129.69 374.26L131.39 373.12L133.10 372.01L134.80 370.96L136.50 370.00L138.20 369.17L139.90 368.48L141.61 367.97" stroke="#F8766D" stroke-opacity="0.88" stroke-width="1.6" fill="none" stroke-linejoin="round" stroke-linecap="butt"/><path d="M59.89 330.52L61.60 331.23L63.30 332.17L65.00 333.32L66.70 334.64L68.40 336.08L70.11 337.60L71.81 339.17L73.51 340.74L75.21 342.28L76.92 343.74L78.62 345.08L80.32 346.27L82.02 347.27L83.73 348.03L85.43 348.51L87.13 348.68L88.83 348.57L90.54 348.26L92.24 347.77L93.94 347.14L95.64 346.40L97.35 345.56L99.05 344.67L100.75 343.75L102.45 342.83L104.15 341.94L105.86 341.11L107.56 340.36L109.26 339.73L110.96 339.24L112.67 338.93L114.37 338.82L116.07 338.73L117.77 338.47L119.48 338.07L121.18 337.54L122.88 336.91L124.58 336.19L126.29 335.42L127.99 334.60L129.69 333.77L131.39 332.94L133.10 332.13L134.80 331.36L136.50 330.67L138.20 330.05L139.90 329.55L141.61 329.18" stroke="#B79F00" stroke-opacity="0.88" stroke-width="1.6" fill="none" stroke-linejoin="round" stroke-linecap="butt"/><path d="M59.89 378.05L61.60 378.66L63.30 379.48L65.00 380.47L66.70 381.61L68.40 382.85L70.11 384.17L71.81 385.52L73.51 386.88L75.21 388.21L76.92 389.47L78.62 390.64L80.32 391.66L82.02 392.52L83.73 393.18L85.43 393.60L87.13 393.75L88.83 393.65L90.54 393.37L92.24 392.94L93.94 392.38L95.64 391.72L97.35 390.98L99.05 390.19L100.75 389.38L102.45 388.56L104.15 387.77L105.86 387.03L107.56 386.37L109.26 385.81L110.96 385.38L112.67 385.10L114.37 385.00L116.07 384.92L117.77 384.67L119.48 384.29L121.18 383.78L122.88 383.18L124.58 382.50L126.29 381.76L127.99 380.98L129.69 380.19L131.39 379.39L133.10 378.62L134.80 377.90L136.50 377.23L138.20 376.65L139.90 376.17L141.61 375.81" stroke="#00BA38" stroke-opacity="0.88" stroke-width="1.6" fill="none" stroke-linejoin="round" stroke-linecap="butt"/><path d="M59.89 413.25L61.60 411.92L63.30 410.12L65.00 407.93L66.70 405.43L68.40 402.70L70.11 399.80L71.81 396.82L73.51 393.83L75.21 390.91L76.92 388.13L78.62 385.58L80.32 383.31L82.02 381.42L83.73 379.97L85.43 379.05L87.13 378.73L88.83 378.90L90.54 379.37L92.24 380.11L93.94 381.07L95.64 382.21L97.35 383.48L99.05 384.84L100.75 386.24L102.45 387.64L104.15 389.00L105.86 390.26L107.56 391.40L109.26 392.36L110.96 393.10L112.67 393.58L114.37 393.75L116.07 393.91L117.77 394.36L119.48 395.06L121.18 395.98L122.88 397.08L124.58 398.33L126.29 399.68L127.99 401.11L129.69 402.56L131.39 404.01L133.10 405.42L134.80 406.75L136.50 407.97L138.20 409.04L139.90 409.91L141.61 410.56" stroke="#00BFC4" stroke-opacity="0.88" stroke-width="1.6" fill="none" stroke-linejoin="round" stroke-linecap="butt"/><path d="M59.89 326.94L61.60 327.25L63.30 327.67L65.00 328.18L66.70 328.77L68.40 329.41L70.11 330.08L71.81 330.78L73.51 331.48L75.21 332.16L76.92 332.81L78.62 333.41L80.32 333.94L82.02 334.38L83.73 334.72L85.43 334.93L87.13 335.01L88.83 335.00L90.54 334.98L92.24 334.95L93.94 334.90L95.64 334.85L97.35 334.80L99.05 334.73L100.75 334.67L102.45 334.61L104.15 334.55L105.86 334.49L107.56 334.44L109.26 334.40L110.96 334.36L112.67 334.34L114.37 334.34L116.07 334.25L117.77 334.02L119.48 333.65L121.18 333.17L122.88 332.60L124.58 331.95L126.29 331.25L127.99 330.51L129.69 329.75L131.39 329.00L133.10 328.27L134.80 327.57L136.50 326.94L138.20 326.39L139.90 325.93L141.61 325.59" stroke="#619CFF" stroke-opacity="0.88" stroke-width="1.6" fill="none" stroke-linejoin="round" stroke-linecap="butt"/><path d="M59.89 376.93L61.60 376.73L63.30 376.47L65.00 376.14L66.70 375.77L68.40 375.36L70.11 374.92L71.81 374.48L73.51 374.03L75.21 373.60L76.92 373.18L78.62 372.80L80.32 372.46L82.02 372.18L83.73 371.96L85.43 371.83L87.13 371.78L88.83 371.74L90.54 371.62L92.24 371.45L93.94 371.22L95.64 370.95L97.35 370.64L99.05 370.32L100.75 369.98L102.45 369.65L104.15 369.32L105.86 369.02L107.56 368.75L109.26 368.52L110.96 368.34L112.67 368.23L114.37 368.19L116.07 368.24L117.77 368.39L119.48 368.63L121.18 368.93L122.88 369.30L124.58 369.72L126.29 370.17L127.99 370.64L129.69 371.13L131.39 371.61L133.10 372.08L134.80 372.52L136.50 372.93L138.20 373.29L139.90 373.58L141.61 373.79" stroke="#F564E3" stroke-opacity="0.88" stroke-width="1.6" fill="none" stroke-linejoin="round" stroke-linecap="butt"/></g>
<text transform="translate(100.75,314.00) scale(1,1.07)" font-size="11.73" fill="#1A1A1A" text-anchor="middle">ACR-244</text>
<text transform="translate(36.80,335.00) scale(1,1.07)" font-size="11.73" fill="#4D4D4D" text-anchor="end">3</text>
<text transform="translate(36.80,357.42) scale(1,1.07)" font-size="11.73" fill="#4D4D4D" text-anchor="end">2</text>
<text transform="translate(36.80,379.84) scale(1,1.07)" font-size="11.73" fill="#4D4D4D" text-anchor="end">1</text>
<text transform="translate(36.80,402.26) scale(1,1.07)" font-size="11.73" fill="#4D4D4D" text-anchor="end">0</text>
<text transform="translate(36.80,424.68) scale(1,1.07)" font-size="11.73" fill="#4D4D4D" text-anchor="end">-1</text>
<text transform="translate(59.59,430.60) rotate(-45) scale(1,1.07)" x="0" y="8.0" font-size="11.73" fill="#4D4D4D" text-anchor="end">TP1</text>
<text transform="translate(86.83,430.60) rotate(-45) scale(1,1.07)" x="0" y="8.0" font-size="11.73" fill="#4D4D4D" text-anchor="end">TP2</text>
<text transform="translate(114.07,430.60) rotate(-45) scale(1,1.07)" x="0" y="8.0" font-size="11.73" fill="#4D4D4D" text-anchor="end">TP3</text>
<text transform="translate(141.31,430.60) rotate(-45) scale(1,1.07)" x="0" y="8.0" font-size="11.73" fill="#4D4D4D" text-anchor="end">TP4</text>
<g><path d="M165.28 341.51H279.68M165.28 363.93H279.68M165.28 386.35H279.68M165.28 408.77H279.68" stroke="#EBEBEB" stroke-width="0.53" fill="none"/><path d="M165.28 330.30H279.68M165.28 352.72H279.68M165.28 375.14H279.68M165.28 397.56H279.68M165.28 419.98H279.68M181.62 321.30V423.50M208.86 321.30V423.50M236.10 321.30V423.50M263.34 321.30V423.50" stroke="#EBEBEB" stroke-width="1.07" fill="none"/><circle cx="181.62" cy="378.50" r="2.5" fill="#F564E3" fill-opacity="0.75" stroke="#F564E3" stroke-opacity="0.75" stroke-width="0.8"/><circle cx="208.86" cy="372.45" r="2.5" fill="#F564E3" fill-opacity="0.75" stroke="#F564E3" stroke-opacity="0.75" stroke-width="0.8"/><circle cx="236.10" cy="371.33" r="2.5" fill="#F564E3" fill-opacity="0.75" stroke="#F564E3" stroke-opacity="0.75" stroke-width="0.8"/><circle cx="263.34" cy="372.90" r="2.5" fill="#F564E3" fill-opacity="0.75" stroke="#F564E3" stroke-opacity="0.75" stroke-width="0.8"/><circle cx="181.62" cy="331.42" r="2.5" fill="#619CFF" fill-opacity="0.75" stroke="#619CFF" stroke-opacity="0.75" stroke-width="0.8"/><circle cx="208.86" cy="328.51" r="2.5" fill="#619CFF" fill-opacity="0.75" stroke="#619CFF" stroke-opacity="0.75" stroke-width="0.8"/><circle cx="236.10" cy="329.40" r="2.5" fill="#619CFF" fill-opacity="0.75" stroke="#619CFF" stroke-opacity="0.75" stroke-width="0.8"/><circle cx="263.34" cy="329.18" r="2.5" fill="#619CFF" fill-opacity="0.75" stroke="#619CFF" stroke-opacity="0.75" stroke-width="0.8"/><circle cx="181.62" cy="413.03" r="2.5" fill="#00BFC4" fill-opacity="0.75" stroke="#00BFC4" stroke-opacity="0.75" stroke-width="0.8"/><circle cx="208.86" cy="389.26" r="2.5" fill="#00BFC4" fill-opacity="0.75" stroke="#00BFC4" stroke-opacity="0.75" stroke-width="0.8"/><circle cx="236.10" cy="408.77" r="2.5" fill="#00BFC4" fill-opacity="0.75" stroke="#00BFC4" stroke-opacity="0.75" stroke-width="0.8"/><circle cx="263.34" cy="414.60" r="2.5" fill="#00BFC4" fill-opacity="0.75" stroke="#00BFC4" stroke-opacity="0.75" stroke-width="0.8"/><circle cx="181.62" cy="376.26" r="2.5" fill="#00BA38" fill-opacity="0.75" stroke="#00BA38" stroke-opacity="0.75" stroke-width="0.8"/><circle cx="208.86" cy="374.24" r="2.5" fill="#00BA38" fill-opacity="0.75" stroke="#00BA38" stroke-opacity="0.75" stroke-width="0.8"/><circle cx="236.10" cy="372.67" r="2.5" fill="#00BA38" fill-opacity="0.75" stroke="#00BA38" stroke-opacity="0.75" stroke-width="0.8"/><circle cx="263.34" cy="375.36" r="2.5" fill="#00BA38" fill-opacity="0.75" stroke="#00BA38" stroke-opacity="0.75" stroke-width="0.8"/><circle cx="181.62" cy="339.27" r="2.5" fill="#B79F00" fill-opacity="0.75" stroke="#B79F00" stroke-opacity="0.75" stroke-width="0.8"/><circle cx="208.86" cy="346.67" r="2.5" fill="#B79F00" fill-opacity="0.75" stroke="#B79F00" stroke-opacity="0.75" stroke-width="0.8"/><circle cx="236.10" cy="339.04" r="2.5" fill="#B79F00" fill-opacity="0.75" stroke="#B79F00" stroke-opacity="0.75" stroke-width="0.8"/><circle cx="263.34" cy="333.89" r="2.5" fill="#B79F00" fill-opacity="0.75" stroke="#B79F00" stroke-opacity="0.75" stroke-width="0.8"/><circle cx="181.62" cy="359.00" r="2.5" fill="#F8766D" fill-opacity="0.75" stroke="#F8766D" stroke-opacity="0.75" stroke-width="0.8"/><circle cx="208.86" cy="378.05" r="2.5" fill="#F8766D" fill-opacity="0.75" stroke="#F8766D" stroke-opacity="0.75" stroke-width="0.8"/><circle cx="236.10" cy="374.02" r="2.5" fill="#F8766D" fill-opacity="0.75" stroke="#F8766D" stroke-opacity="0.75" stroke-width="0.8"/><circle cx="263.34" cy="364.38" r="2.5" fill="#F8766D" fill-opacity="0.75" stroke="#F8766D" stroke-opacity="0.75" stroke-width="0.8"/><path d="M181.62 359.00L183.33 359.74L185.03 360.73L186.73 361.94L188.43 363.32L190.13 364.82L191.84 366.42L193.54 368.07L195.24 369.72L196.94 371.33L198.65 372.86L200.35 374.27L202.05 375.52L203.75 376.57L205.46 377.37L207.16 377.88L208.86 378.05L210.56 378.01L212.27 377.88L213.97 377.68L215.67 377.42L217.37 377.12L219.08 376.78L220.78 376.41L222.48 376.04L224.18 375.66L225.88 375.30L227.59 374.95L229.29 374.65L230.99 374.39L232.69 374.19L234.40 374.06L236.10 374.02L237.80 373.93L239.50 373.67L241.21 373.27L242.91 372.74L244.61 372.11L246.31 371.39L248.02 370.62L249.72 369.80L251.42 368.97L253.12 368.13L254.83 367.33L256.53 366.56L258.23 365.86L259.93 365.25L261.63 364.75L263.34 364.38" stroke="#F8766D" stroke-opacity="0.88" stroke-width="1.6" fill="none" stroke-linejoin="round" stroke-linecap="butt"/><path d="M181.62 339.27L183.33 339.55L185.03 339.94L186.73 340.41L188.43 340.94L190.13 341.53L191.84 342.15L193.54 342.79L195.24 343.43L196.94 344.06L198.65 344.65L200.35 345.20L202.05 345.68L203.75 346.09L205.46 346.40L207.16 346.60L208.86 346.67L210.56 346.58L212.27 346.34L213.97 345.96L215.67 345.48L217.37 344.90L219.08 344.25L220.78 343.57L222.48 342.86L224.18 342.14L225.88 341.46L227.59 340.81L229.29 340.23L230.99 339.75L232.69 339.37L234.40 339.13L236.10 339.04L237.80 339.00L239.50 338.86L241.21 338.64L242.91 338.36L244.61 338.02L246.31 337.64L248.02 337.22L249.72 336.79L251.42 336.34L253.12 335.90L254.83 335.46L256.53 335.06L258.23 334.68L259.93 334.36L261.63 334.09L263.34 333.89" stroke="#B79F00" stroke-opacity="0.88" stroke-width="1.6" fill="none" stroke-linejoin="round" stroke-linecap="butt"/><path d="M181.62 376.26L183.33 376.18L185.03 376.08L186.73 375.95L188.43 375.80L190.13 375.64L191.84 375.47L193.54 375.30L195.24 375.13L196.94 374.96L198.65 374.79L200.35 374.64L202.05 374.51L203.75 374.40L205.46 374.32L207.16 374.26L208.86 374.24L210.56 374.23L212.27 374.18L213.97 374.10L215.67 374.00L217.37 373.88L219.08 373.75L220.78 373.60L222.48 373.46L224.18 373.31L225.88 373.17L227.59 373.04L229.29 372.92L230.99 372.82L232.69 372.74L234.40 372.69L236.10 372.67L237.80 372.70L239.50 372.77L241.21 372.88L242.91 373.03L244.61 373.21L246.31 373.41L248.02 373.62L249.72 373.85L251.42 374.08L253.12 374.32L254.83 374.54L256.53 374.75L258.23 374.95L259.93 375.12L261.63 375.26L263.34 375.36" stroke="#00BA38" stroke-opacity="0.88" stroke-width="1.6" fill="none" stroke-linejoin="round" stroke-linecap="butt"/><path d="M181.62 413.03L183.33 412.11L185.03 410.87L186.73 409.37L188.43 407.65L190.13 405.76L191.84 403.77L193.54 401.72L195.24 399.66L196.94 397.65L198.65 395.74L200.35 393.98L202.05 392.42L203.75 391.12L205.46 390.12L207.16 389.49L208.86 389.26L210.56 389.48L212.27 390.10L213.97 391.06L215.67 392.31L217.37 393.79L219.08 395.44L220.78 397.20L222.48 399.02L224.18 400.84L225.88 402.60L227.59 404.25L229.29 405.72L230.99 406.97L232.69 407.93L234.40 408.55L236.10 408.77L237.80 408.82L239.50 408.98L241.21 409.22L242.91 409.54L244.61 409.93L246.31 410.36L248.02 410.83L249.72 411.32L251.42 411.82L253.12 412.33L254.83 412.82L256.53 413.28L258.23 413.70L259.93 414.07L261.63 414.37L263.34 414.60" stroke="#00BFC4" stroke-opacity="0.88" stroke-width="1.6" fill="none" stroke-linejoin="round" stroke-linecap="butt"/><path d="M181.62 331.42L183.33 331.31L185.03 331.16L186.73 330.97L188.43 330.76L190.13 330.53L191.84 330.29L193.54 330.03L195.24 329.78L196.94 329.53L198.65 329.30L200.35 329.08L202.05 328.89L203.75 328.73L205.46 328.61L207.16 328.53L208.86 328.51L210.56 328.52L212.27 328.54L213.97 328.59L215.67 328.65L217.37 328.71L219.08 328.79L220.78 328.87L222.48 328.95L224.18 329.04L225.88 329.12L227.59 329.20L229.29 329.26L230.99 329.32L232.69 329.36L234.40 329.39L236.10 329.40L237.80 329.40L239.50 329.40L241.21 329.39L242.91 329.37L244.61 329.36L246.31 329.34L248.02 329.32L249.72 329.31L251.42 329.29L253.12 329.27L254.83 329.25L256.53 329.23L258.23 329.21L259.93 329.20L261.63 329.19L263.34 329.18" stroke="#619CFF" stroke-opacity="0.88" stroke-width="1.6" fill="none" stroke-linejoin="round" stroke-linecap="butt"/><path d="M181.62 378.50L183.33 378.27L185.03 377.95L186.73 377.57L188.43 377.13L190.13 376.65L191.84 376.14L193.54 375.62L195.24 375.10L196.94 374.59L198.65 374.10L200.35 373.65L202.05 373.25L203.75 372.92L205.46 372.67L207.16 372.51L208.86 372.45L210.56 372.44L212.27 372.40L213.97 372.35L215.67 372.27L217.37 372.19L219.08 372.09L220.78 371.99L222.48 371.89L224.18 371.78L225.88 371.68L227.59 371.59L229.29 371.50L230.99 371.43L232.69 371.38L234.40 371.34L236.10 371.33L237.80 371.34L239.50 371.39L241.21 371.45L242.91 371.54L244.61 371.64L246.31 371.76L248.02 371.88L249.72 372.02L251.42 372.15L253.12 372.29L254.83 372.42L256.53 372.54L258.23 372.66L259.93 372.76L261.63 372.84L263.34 372.90" stroke="#F564E3" stroke-opacity="0.88" stroke-width="1.6" fill="none" stroke-linejoin="round" stroke-linecap="butt"/></g>
<text transform="translate(222.48,314.00) scale(1,1.07)" font-size="11.73" fill="#1A1A1A" text-anchor="middle">ACR-265</text>
<text transform="translate(181.32,430.60) rotate(-45) scale(1,1.07)" x="0" y="8.0" font-size="11.73" fill="#4D4D4D" text-anchor="end">TP1</text>
<text transform="translate(208.56,430.60) rotate(-45) scale(1,1.07)" x="0" y="8.0" font-size="11.73" fill="#4D4D4D" text-anchor="end">TP2</text>
<text transform="translate(235.80,430.60) rotate(-45) scale(1,1.07)" x="0" y="8.0" font-size="11.73" fill="#4D4D4D" text-anchor="end">TP3</text>
<text transform="translate(263.04,430.60) rotate(-45) scale(1,1.07)" x="0" y="8.0" font-size="11.73" fill="#4D4D4D" text-anchor="end">TP4</text>
<text x="283.2" y="468.2" font-size="14.67" fill="#000" text-anchor="middle">Timepoint</text>
<text transform="translate(17.7,239.2) rotate(-90)" font-size="14.67" fill="#000" text-anchor="middle">Expression</text>
<text x="545" y="171.5" font-size="14.67" fill="#000">Gene</text>
<path d="M547.3 193.00H565.7" stroke="#F8766D" stroke-opacity="0.88" stroke-width="1.6"/>
<circle cx="556.5" cy="193.00" r="2.5" fill="#F8766D" fill-opacity="0.75" stroke="#F8766D" stroke-opacity="0.75" stroke-width="0.8"/>
<text transform="translate(575.40,197.60) scale(1,1.07)" font-size="11.73" fill="#000">FUN_<tspan letter-spacing="0.3">009441</tspan></text>
<path d="M547.3 216.04H565.7" stroke="#B79F00" stroke-opacity="0.88" stroke-width="1.6"/>
<circle cx="556.5" cy="216.04" r="2.5" fill="#B79F00" fill-opacity="0.75" stroke="#B79F00" stroke-opacity="0.75" stroke-width="0.8"/>
<text transform="translate(575.40,220.64) scale(1,1.07)" font-size="11.73" fill="#000">lncRNA_<tspan letter-spacing="0.45">15834</tspan></text>
<path d="M547.3 239.08H565.7" stroke="#00BA38" stroke-opacity="0.88" stroke-width="1.6"/>
<circle cx="556.5" cy="239.08" r="2.5" fill="#00BA38" fill-opacity="0.75" stroke="#00BA38" stroke-opacity="0.75" stroke-width="0.8"/>
<text transform="translate(575.40,243.68) scale(1,1.07)" font-size="11.73" fill="#000">lncRNA_<tspan letter-spacing="0.45">25854</tspan></text>
<path d="M547.3 262.12H565.7" stroke="#00BFC4" stroke-opacity="0.88" stroke-width="1.6"/>
<circle cx="556.5" cy="262.12" r="2.5" fill="#00BFC4" fill-opacity="0.75" stroke="#00BFC4" stroke-opacity="0.75" stroke-width="0.8"/>
<text transform="translate(575.40,266.72) scale(1,1.07)" font-size="11.73" fill="#000">lncRNA_<tspan letter-spacing="0.45">4250</tspan></text>
<path d="M547.3 285.16H565.7" stroke="#619CFF" stroke-opacity="0.88" stroke-width="1.6"/>
<circle cx="556.5" cy="285.16" r="2.5" fill="#619CFF" fill-opacity="0.75" stroke="#619CFF" stroke-opacity="0.75" stroke-width="0.8"/>
<text transform="translate(575.40,289.76) scale(1,1.07)" font-size="11.73" fill="#000">lncRNA_<tspan letter-spacing="0.45">42907</tspan></text>
<path d="M547.3 308.20H565.7" stroke="#F564E3" stroke-opacity="0.88" stroke-width="1.6"/>
<circle cx="556.5" cy="308.20" r="2.5" fill="#F564E3" fill-opacity="0.75" stroke="#F564E3" stroke-opacity="0.75" stroke-width="0.8"/>
<text transform="translate(575.40,312.80) scale(1,1.07)" font-size="11.73" fill="#000">lncRNA_<tspan letter-spacing="0.45">54010</tspan></text>
</svg>
</body></html>
